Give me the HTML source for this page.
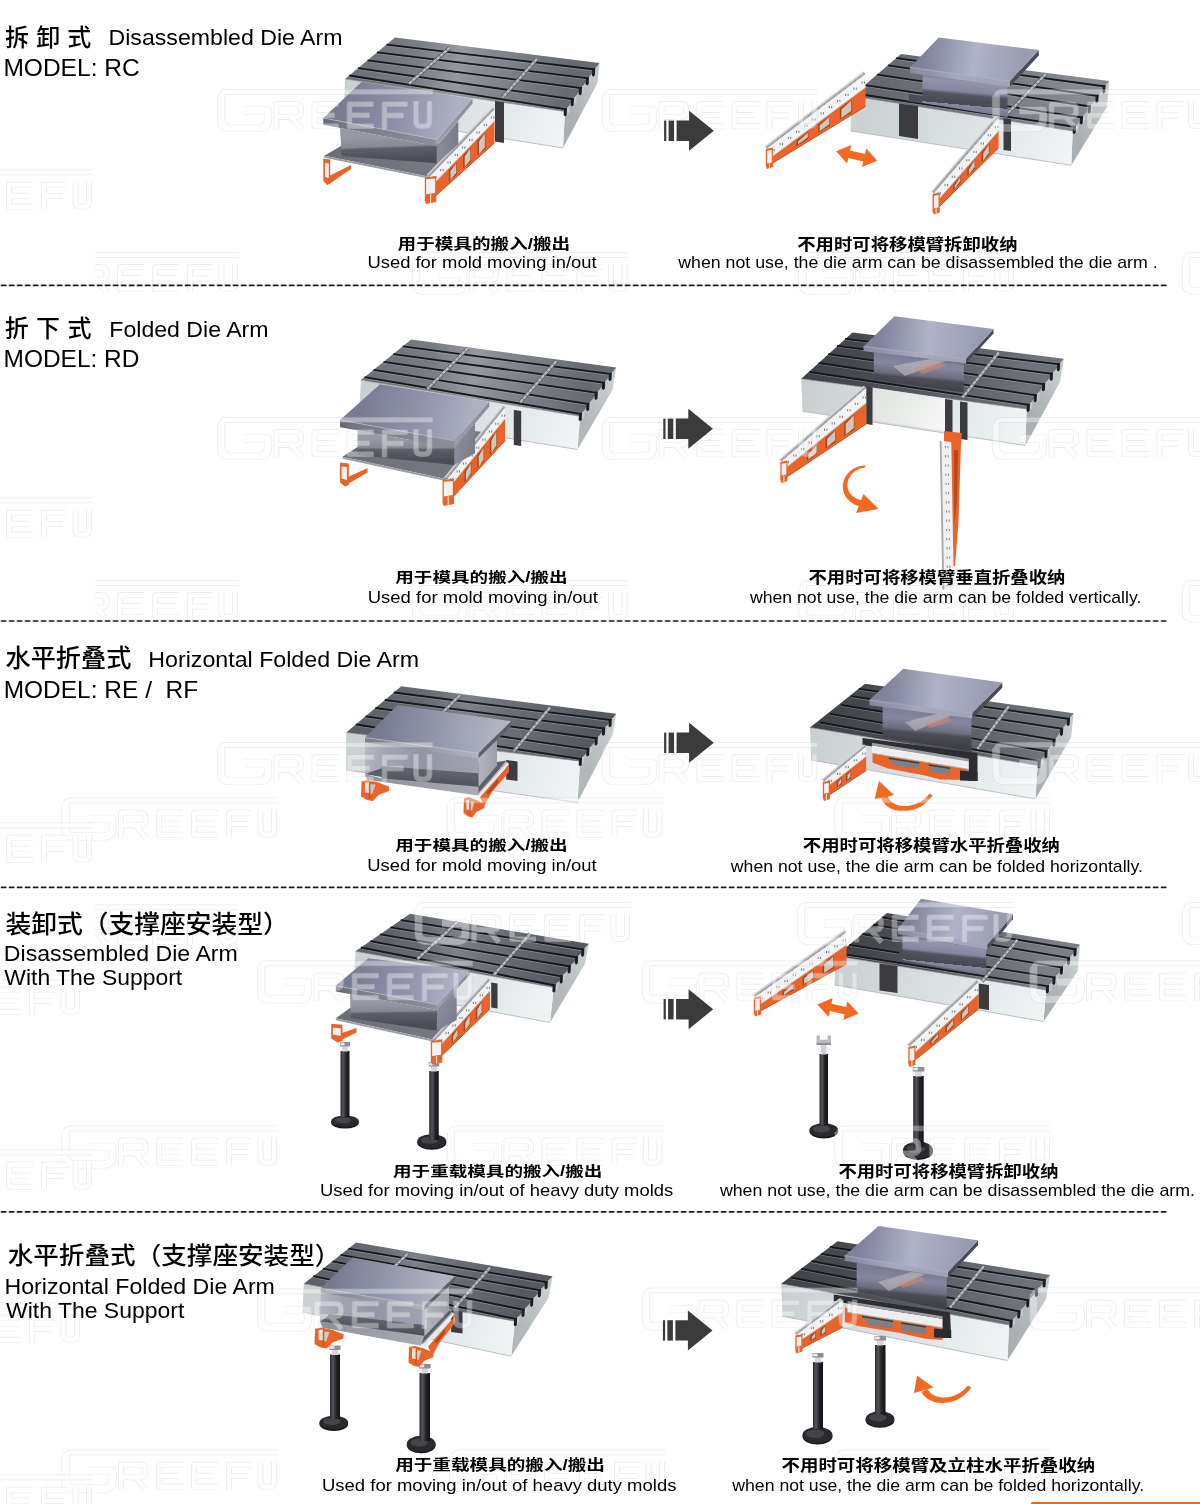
<!DOCTYPE html>
<html><head><meta charset="utf-8"><title>Die Arm</title>
<style>
html,body{margin:0;padding:0;background:#fff;}
body{width:1200px;height:1504px;overflow:hidden;font-family:"Liberation Sans",sans-serif;}
svg{display:block;position:absolute;left:0;top:0;}
text{font-family:"Liberation Sans",sans-serif;}
text.cjk{font-family:"Liberation Sans","Noto Sans CJK SC",sans-serif;}
</style></head><body>
<svg width="1200" height="1504" viewBox="0 0 1200 1504">
<defs><filter id="soft" x="0" y="0" width="1200" height="1504" filterUnits="userSpaceOnUse"><feGaussianBlur stdDeviation="0.5"/></filter><linearGradient id="lg1" gradientUnits="userSpaceOnUse" x1="324.2" y1="155.8" x2="468" y2="137"><stop offset="0" stop-color="#6b6d76"/><stop offset="1" stop-color="#7b7d86"/></linearGradient><linearGradient id="lg2" gradientUnits="userSpaceOnUse" x1="436.7" y1="146.3" x2="458.3" y2="144.2"><stop offset="0" stop-color="#8b8d9c"/><stop offset="1" stop-color="#7a7c8a"/></linearGradient><linearGradient id="lg3" gradientUnits="userSpaceOnUse" x1="388.4" y1="137.1" x2="389.2" y2="159.7"><stop offset="0" stop-color="#9698a3"/><stop offset="0.4" stop-color="#878994"/><stop offset="0.5" stop-color="#5d5f67"/><stop offset="1" stop-color="#4c4e56"/></linearGradient><linearGradient id="lg4" gradientUnits="userSpaceOnUse" x1="436.7" y1="139.5" x2="472.5" y2="98.7"><stop offset="0" stop-color="#9b9da8"/><stop offset="1" stop-color="#8a8c98"/></linearGradient><linearGradient id="lg5" gradientUnits="userSpaceOnUse" x1="323.3" y1="118" x2="436.7" y2="139.5"><stop offset="0" stop-color="#666873"/><stop offset="0.2" stop-color="#787a86"/><stop offset="1" stop-color="#8d8f9b"/></linearGradient><linearGradient id="lg6" gradientUnits="userSpaceOnUse" x1="342.5" y1="99.8" x2="454.6" y2="119.1"><stop offset="0" stop-color="#787b92"/><stop offset="0.6" stop-color="#9396ad"/><stop offset="1" stop-color="#aeb1c2"/></linearGradient><linearGradient id="lg7" gradientUnits="userSpaceOnUse" x1="565" y1="111.5" x2="597.5" y2="83"><stop offset="0" stop-color="#a9afb2"/><stop offset="1" stop-color="#c2c7c7"/></linearGradient><linearGradient id="lg8" gradientUnits="userSpaceOnUse" x1="345" y1="79" x2="563" y2="148"><stop offset="0" stop-color="#c9cfd0"/><stop offset="0.5" stop-color="#dbe1e3"/><stop offset="1" stop-color="#f0f4f5"/></linearGradient><linearGradient id="lg9" gradientUnits="userSpaceOnUse" x1="345" y1="79" x2="565" y2="111.5"><stop offset="0" stop-color="#6b6f76"/><stop offset="0.3" stop-color="#787c83"/><stop offset="0.5" stop-color="#969aa0"/><stop offset="0.6" stop-color="#878b92"/><stop offset="1" stop-color="#666a71"/></linearGradient><linearGradient id="lg10" gradientUnits="userSpaceOnUse" x1="1072.7" y1="131" x2="1107" y2="107"><stop offset="0" stop-color="#a9afb2"/><stop offset="0.5" stop-color="#b4babc"/><stop offset="1" stop-color="#c6cbcc"/></linearGradient><linearGradient id="lg11" gradientUnits="userSpaceOnUse" x1="852" y1="96" x2="1071.3" y2="165.3"><stop offset="0" stop-color="#c9cfd0"/><stop offset="0.5" stop-color="#dbe1e3"/><stop offset="1" stop-color="#f0f4f5"/></linearGradient><linearGradient id="lg12" gradientUnits="userSpaceOnUse" x1="852" y1="96" x2="1072.7" y2="131"><stop offset="0" stop-color="#62656c"/><stop offset="0.4" stop-color="#6e7178"/><stop offset="1" stop-color="#868a91"/></linearGradient><linearGradient id="lg13" gradientUnits="userSpaceOnUse" x1="960" y1="78" x2="957" y2="111"><stop offset="0" stop-color="#7d7f94"/><stop offset="0.1" stop-color="#9395aa"/><stop offset="0.4" stop-color="#8486a0"/><stop offset="0.5" stop-color="#53545e"/><stop offset="0.8" stop-color="#484952"/><stop offset="0.8" stop-color="#8688a0"/><stop offset="1" stop-color="#76788c"/></linearGradient><linearGradient id="lg14" gradientUnits="userSpaceOnUse" x1="910" y1="67.5" x2="1010" y2="81.2"><stop offset="0" stop-color="#8587a0"/><stop offset="0.5" stop-color="#a6a8bc"/><stop offset="1" stop-color="#a0a2b6"/></linearGradient><linearGradient id="lg15" gradientUnits="userSpaceOnUse" x1="924.4" y1="52.5" x2="1024.4" y2="65.6"><stop offset="0" stop-color="#80829c"/><stop offset="0.5" stop-color="#b0b2c8"/><stop offset="1" stop-color="#999bb1"/></linearGradient><linearGradient id="lg16" gradientUnits="userSpaceOnUse" x1="342.5" y1="456.7" x2="491" y2="432.5"><stop offset="0" stop-color="#6b6d76"/><stop offset="1" stop-color="#7b7d86"/></linearGradient><linearGradient id="lg17" gradientUnits="userSpaceOnUse" x1="454.2" y1="448" x2="475" y2="453.3"><stop offset="0" stop-color="#8b8d9c"/><stop offset="1" stop-color="#7a7c8a"/></linearGradient><linearGradient id="lg18" gradientUnits="userSpaceOnUse" x1="405.9" y1="439.2" x2="405.9" y2="460"><stop offset="0" stop-color="#9698a3"/><stop offset="0.4" stop-color="#878994"/><stop offset="0.5" stop-color="#5d5f67"/><stop offset="1" stop-color="#4c4e56"/></linearGradient><linearGradient id="lg19" gradientUnits="userSpaceOnUse" x1="454.2" y1="440.8" x2="489.2" y2="401.7"><stop offset="0" stop-color="#9b9da8"/><stop offset="1" stop-color="#8a8c98"/></linearGradient><linearGradient id="lg20" gradientUnits="userSpaceOnUse" x1="340" y1="420" x2="454.2" y2="440.8"><stop offset="0" stop-color="#666873"/><stop offset="0.2" stop-color="#787a86"/><stop offset="1" stop-color="#8d8f9b"/></linearGradient><linearGradient id="lg21" gradientUnits="userSpaceOnUse" x1="360" y1="402.1" x2="471.7" y2="421.2"><stop offset="0" stop-color="#787b92"/><stop offset="0.6" stop-color="#9396ad"/><stop offset="1" stop-color="#aeb1c2"/></linearGradient><linearGradient id="lg22" gradientUnits="userSpaceOnUse" x1="580" y1="416.2" x2="612.5" y2="390"><stop offset="0" stop-color="#b2b8ba"/><stop offset="0.5" stop-color="#bbc0c2"/><stop offset="1" stop-color="#c8cdce"/></linearGradient><linearGradient id="lg23" gradientUnits="userSpaceOnUse" x1="361" y1="380" x2="577.5" y2="449.5"><stop offset="0" stop-color="#c9cfd0"/><stop offset="0.5" stop-color="#dbe1e3"/><stop offset="1" stop-color="#f0f4f5"/></linearGradient><linearGradient id="lg24" gradientUnits="userSpaceOnUse" x1="361" y1="380" x2="580" y2="416.2"><stop offset="0" stop-color="#6b6f76"/><stop offset="0.3" stop-color="#787c83"/><stop offset="0.5" stop-color="#969aa0"/><stop offset="0.6" stop-color="#878b92"/><stop offset="1" stop-color="#666a71"/></linearGradient><linearGradient id="lg25" gradientUnits="userSpaceOnUse" x1="1026.5" y1="409" x2="1060" y2="382"><stop offset="0" stop-color="#a9afb2"/><stop offset="0.5" stop-color="#b4babc"/><stop offset="1" stop-color="#c6cbcc"/></linearGradient><linearGradient id="lg26" gradientUnits="userSpaceOnUse" x1="801.2" y1="378.8" x2="1025.5" y2="445.5"><stop offset="0" stop-color="#c9cfd0"/><stop offset="0.5" stop-color="#dbe1e3"/><stop offset="1" stop-color="#f0f4f5"/></linearGradient><linearGradient id="lg27" gradientUnits="userSpaceOnUse" x1="801.2" y1="378.8" x2="1026.5" y2="409"><stop offset="0" stop-color="#3f4248"/><stop offset="0.3" stop-color="#494c52"/><stop offset="0.6" stop-color="#595c62"/><stop offset="1" stop-color="#6e7279"/></linearGradient><linearGradient id="lg28" gradientUnits="userSpaceOnUse" x1="872" y1="390" x2="945" y2="430"><stop offset="0" stop-color="#dfe2df"/><stop offset="1" stop-color="#f6f7f6"/></linearGradient><linearGradient id="lg29" gradientUnits="userSpaceOnUse" x1="918" y1="356" x2="915" y2="388"><stop offset="0" stop-color="#7a7c90"/><stop offset="0.3" stop-color="#8587a0"/><stop offset="0.6" stop-color="#6c6e7e"/><stop offset="0.7" stop-color="#4c4d57"/><stop offset="1" stop-color="#3e3f47"/></linearGradient><linearGradient id="lg30" gradientUnits="userSpaceOnUse" x1="863.5" y1="346.5" x2="966" y2="359"><stop offset="0" stop-color="#8587a0"/><stop offset="0.5" stop-color="#a6a8bc"/><stop offset="1" stop-color="#a0a2b6"/></linearGradient><linearGradient id="lg31" gradientUnits="userSpaceOnUse" x1="879" y1="331.4" x2="979.8" y2="344"><stop offset="0" stop-color="#80829c"/><stop offset="0.5" stop-color="#b0b2c8"/><stop offset="1" stop-color="#999bb1"/></linearGradient><linearGradient id="lg32" gradientUnits="userSpaceOnUse" x1="478" y1="760" x2="497" y2="760"><stop offset="0" stop-color="#b4b6be"/><stop offset="1" stop-color="#9d9fa8"/></linearGradient><linearGradient id="lg33" gradientUnits="userSpaceOnUse" x1="365" y1="750" x2="478" y2="765"><stop offset="0" stop-color="#b3b6bf"/><stop offset="0.2" stop-color="#a2a5b1"/><stop offset="0.5" stop-color="#9295a4"/><stop offset="1" stop-color="#a1a4b0"/></linearGradient><linearGradient id="lg34" gradientUnits="userSpaceOnUse" x1="430" y1="769" x2="429" y2="785"><stop offset="0" stop-color="#64666f"/><stop offset="1" stop-color="#4f5159"/></linearGradient><linearGradient id="lg35" gradientUnits="userSpaceOnUse" x1="366" y1="777" x2="478" y2="791"><stop offset="0" stop-color="#8e9199"/><stop offset="1" stop-color="#aaacb4"/></linearGradient><linearGradient id="lg36" gradientUnits="userSpaceOnUse" x1="365" y1="740" x2="478" y2="756"><stop offset="0" stop-color="#7d808c"/><stop offset="1" stop-color="#b0b3be"/></linearGradient><linearGradient id="lg37" gradientUnits="userSpaceOnUse" x1="378" y1="722" x2="497" y2="738"><stop offset="0" stop-color="#767a8e"/><stop offset="0.5" stop-color="#9397aa"/><stop offset="1" stop-color="#b1b5c2"/></linearGradient><linearGradient id="lg38" gradientUnits="userSpaceOnUse" x1="580" y1="761.2" x2="612.5" y2="735"><stop offset="0" stop-color="#b2b8ba"/><stop offset="0.5" stop-color="#bbc0c2"/><stop offset="1" stop-color="#c8cdce"/></linearGradient><linearGradient id="lg39" gradientUnits="userSpaceOnUse" x1="346.2" y1="732.5" x2="577.5" y2="802.5"><stop offset="0" stop-color="#c9cfd0"/><stop offset="0.5" stop-color="#dbe1e3"/><stop offset="1" stop-color="#f0f4f5"/></linearGradient><linearGradient id="lg40" gradientUnits="userSpaceOnUse" x1="346.2" y1="732.5" x2="580" y2="761.2"><stop offset="0" stop-color="#5a5e65"/><stop offset="0.3" stop-color="#666a71"/><stop offset="0.5" stop-color="#7d8188"/><stop offset="0.6" stop-color="#70747b"/><stop offset="1" stop-color="#565a61"/></linearGradient><linearGradient id="lg41" gradientUnits="userSpaceOnUse" x1="1037.5" y1="765.5" x2="1071.2" y2="737"><stop offset="0" stop-color="#a9afb2"/><stop offset="0.5" stop-color="#b4babc"/><stop offset="1" stop-color="#c6cbcc"/></linearGradient><linearGradient id="lg42" gradientUnits="userSpaceOnUse" x1="810" y1="727.5" x2="1035.5" y2="799"><stop offset="0" stop-color="#c9cfd0"/><stop offset="0.5" stop-color="#dbe1e3"/><stop offset="1" stop-color="#f0f4f5"/></linearGradient><linearGradient id="lg43" gradientUnits="userSpaceOnUse" x1="810" y1="727.5" x2="1037.5" y2="765.5"><stop offset="0" stop-color="#3f4248"/><stop offset="0.3" stop-color="#494c52"/><stop offset="0.6" stop-color="#595c62"/><stop offset="1" stop-color="#6e7279"/></linearGradient><linearGradient id="lg44" gradientUnits="userSpaceOnUse" x1="928" y1="710" x2="925" y2="744"><stop offset="0" stop-color="#7a7c90"/><stop offset="0.3" stop-color="#8587a0"/><stop offset="0.6" stop-color="#6c6e7e"/><stop offset="0.7" stop-color="#4c4d57"/><stop offset="1" stop-color="#3e3f47"/></linearGradient><linearGradient id="lg45" gradientUnits="userSpaceOnUse" x1="869.5" y1="700" x2="972.3" y2="713.3"><stop offset="0" stop-color="#8587a0"/><stop offset="0.5" stop-color="#a6a8bc"/><stop offset="1" stop-color="#a0a2b6"/></linearGradient><linearGradient id="lg46" gradientUnits="userSpaceOnUse" x1="886.4" y1="684.4" x2="987.3" y2="697.9"><stop offset="0" stop-color="#80829c"/><stop offset="0.5" stop-color="#b0b2c8"/><stop offset="1" stop-color="#999bb1"/></linearGradient><linearGradient id="lg47" gradientUnits="userSpaceOnUse" x1="335.8" y1="1018.3" x2="470" y2="1004"><stop offset="0" stop-color="#6b6d76"/><stop offset="1" stop-color="#7b7d86"/></linearGradient><linearGradient id="lg48" gradientUnits="userSpaceOnUse" x1="437" y1="1010.1" x2="456.7" y2="1020"><stop offset="0" stop-color="#8b8d9c"/><stop offset="1" stop-color="#7a7c8a"/></linearGradient><linearGradient id="lg49" gradientUnits="userSpaceOnUse" x1="393.5" y1="1002.1" x2="393.8" y2="1024.5"><stop offset="0" stop-color="#9698a3"/><stop offset="0.4" stop-color="#878994"/><stop offset="0.5" stop-color="#5d5f67"/><stop offset="1" stop-color="#4c4e56"/></linearGradient><linearGradient id="lg50" gradientUnits="userSpaceOnUse" x1="437" y1="1004.5" x2="470" y2="970.8"><stop offset="0" stop-color="#9b9da8"/><stop offset="1" stop-color="#8a8c98"/></linearGradient><linearGradient id="lg51" gradientUnits="userSpaceOnUse" x1="335.8" y1="985.8" x2="437" y2="1004.5"><stop offset="0" stop-color="#666873"/><stop offset="0.2" stop-color="#787a86"/><stop offset="1" stop-color="#8d8f9b"/></linearGradient><linearGradient id="lg52" gradientUnits="userSpaceOnUse" x1="352.1" y1="972" x2="453.5" y2="987.6"><stop offset="0" stop-color="#787b92"/><stop offset="0.6" stop-color="#9396ad"/><stop offset="1" stop-color="#aeb1c2"/></linearGradient><linearGradient id="lg53" gradientUnits="userSpaceOnUse" x1="553.8" y1="987.5" x2="585" y2="963.8"><stop offset="0" stop-color="#b2b8ba"/><stop offset="0.5" stop-color="#bbc0c2"/><stop offset="1" stop-color="#c8cdce"/></linearGradient><linearGradient id="lg54" gradientUnits="userSpaceOnUse" x1="355.5" y1="951.3" x2="550" y2="1022.5"><stop offset="0" stop-color="#c9cfd0"/><stop offset="0.5" stop-color="#dbe1e3"/><stop offset="1" stop-color="#f0f4f5"/></linearGradient><linearGradient id="lg55" gradientUnits="userSpaceOnUse" x1="355.5" y1="951.3" x2="553.8" y2="987.5"><stop offset="0" stop-color="#5a5e65"/><stop offset="0.3" stop-color="#666a71"/><stop offset="0.5" stop-color="#7d8188"/><stop offset="0.6" stop-color="#70747b"/><stop offset="1" stop-color="#565a61"/></linearGradient><linearGradient id="lg56" gradientUnits="userSpaceOnUse" x1="340.5" y1="0" x2="349.5" y2="0"><stop offset="0" stop-color="#2a2a2e"/><stop offset="0.3" stop-color="#55555b"/><stop offset="0.6" stop-color="#26262a"/><stop offset="1" stop-color="#121214"/></linearGradient><linearGradient id="lg57" gradientUnits="userSpaceOnUse" x1="429.2" y1="0" x2="438.8" y2="0"><stop offset="0" stop-color="#2a2a2e"/><stop offset="0.3" stop-color="#55555b"/><stop offset="0.6" stop-color="#26262a"/><stop offset="1" stop-color="#121214"/></linearGradient><linearGradient id="lg58" gradientUnits="userSpaceOnUse" x1="1046" y1="990" x2="1077.5" y2="971.5"><stop offset="0" stop-color="#a9afb2"/><stop offset="0.5" stop-color="#b4babc"/><stop offset="1" stop-color="#c6cbcc"/></linearGradient><linearGradient id="lg59" gradientUnits="userSpaceOnUse" x1="836" y1="956" x2="1043.5" y2="1021.5"><stop offset="0" stop-color="#c9cfd0"/><stop offset="0.5" stop-color="#dbe1e3"/><stop offset="1" stop-color="#f0f4f5"/></linearGradient><linearGradient id="lg60" gradientUnits="userSpaceOnUse" x1="836" y1="956" x2="1046" y2="990"><stop offset="0" stop-color="#3f4248"/><stop offset="0.3" stop-color="#4a4d53"/><stop offset="0.6" stop-color="#64686e"/><stop offset="1" stop-color="#7a7e85"/></linearGradient><linearGradient id="lg61" gradientUnits="userSpaceOnUse" x1="945" y1="941" x2="942" y2="969"><stop offset="0" stop-color="#7d7f94"/><stop offset="0.1" stop-color="#9395aa"/><stop offset="0.4" stop-color="#8486a0"/><stop offset="0.5" stop-color="#53545e"/><stop offset="0.8" stop-color="#484952"/><stop offset="0.8" stop-color="#8688a0"/><stop offset="1" stop-color="#76788c"/></linearGradient><linearGradient id="lg62" gradientUnits="userSpaceOnUse" x1="898" y1="929" x2="987.4" y2="944.8"><stop offset="0" stop-color="#8587a0"/><stop offset="0.5" stop-color="#a6a8bc"/><stop offset="1" stop-color="#a0a2b6"/></linearGradient><linearGradient id="lg63" gradientUnits="userSpaceOnUse" x1="909.5" y1="913.9" x2="1000.2" y2="929.5"><stop offset="0" stop-color="#80829c"/><stop offset="0.5" stop-color="#b0b2c8"/><stop offset="1" stop-color="#999bb1"/></linearGradient><linearGradient id="lg64" gradientUnits="userSpaceOnUse" x1="819.5" y1="0" x2="828" y2="0"><stop offset="0" stop-color="#2a2a2e"/><stop offset="0.3" stop-color="#55555b"/><stop offset="0.6" stop-color="#26262a"/><stop offset="1" stop-color="#121214"/></linearGradient><linearGradient id="lg65" gradientUnits="userSpaceOnUse" x1="913.2" y1="0" x2="923.8" y2="0"><stop offset="0" stop-color="#2a2a2e"/><stop offset="0.3" stop-color="#55555b"/><stop offset="0.6" stop-color="#26262a"/><stop offset="1" stop-color="#121214"/></linearGradient><linearGradient id="lg66" gradientUnits="userSpaceOnUse" x1="424" y1="1310" x2="449" y2="1310"><stop offset="0" stop-color="#b4b6be"/><stop offset="1" stop-color="#9d9fa8"/></linearGradient><linearGradient id="lg67" gradientUnits="userSpaceOnUse" x1="320" y1="1300" x2="424" y2="1316"><stop offset="0" stop-color="#b3b6bf"/><stop offset="0.2" stop-color="#a2a5b1"/><stop offset="0.5" stop-color="#9295a4"/><stop offset="1" stop-color="#a1a4b0"/></linearGradient><linearGradient id="lg68" gradientUnits="userSpaceOnUse" x1="376" y1="1318" x2="375" y2="1331"><stop offset="0" stop-color="#64666f"/><stop offset="1" stop-color="#4f5159"/></linearGradient><linearGradient id="lg69" gradientUnits="userSpaceOnUse" x1="321" y1="1324" x2="424" y2="1340"><stop offset="0" stop-color="#8e9199"/><stop offset="1" stop-color="#aaacb4"/></linearGradient><linearGradient id="lg70" gradientUnits="userSpaceOnUse" x1="320" y1="1290" x2="424" y2="1308"><stop offset="0" stop-color="#7d808c"/><stop offset="1" stop-color="#b0b3be"/></linearGradient><linearGradient id="lg71" gradientUnits="userSpaceOnUse" x1="333" y1="1273" x2="442" y2="1290"><stop offset="0" stop-color="#767a8e"/><stop offset="0.5" stop-color="#9397aa"/><stop offset="1" stop-color="#b1b5c2"/></linearGradient><linearGradient id="lg72" gradientUnits="userSpaceOnUse" x1="515" y1="1321.2" x2="548.8" y2="1297.5"><stop offset="0" stop-color="#b2b8ba"/><stop offset="0.5" stop-color="#bbc0c2"/><stop offset="1" stop-color="#c8cdce"/></linearGradient><linearGradient id="lg73" gradientUnits="userSpaceOnUse" x1="303.8" y1="1283.8" x2="511.2" y2="1356.2"><stop offset="0" stop-color="#c9cfd0"/><stop offset="0.5" stop-color="#dbe1e3"/><stop offset="1" stop-color="#f0f4f5"/></linearGradient><linearGradient id="lg74" gradientUnits="userSpaceOnUse" x1="303.8" y1="1283.8" x2="515" y2="1321.2"><stop offset="0" stop-color="#5a5e65"/><stop offset="0.3" stop-color="#666a71"/><stop offset="0.5" stop-color="#7d8188"/><stop offset="0.6" stop-color="#70747b"/><stop offset="1" stop-color="#565a61"/></linearGradient><linearGradient id="lg75" gradientUnits="userSpaceOnUse" x1="330" y1="0" x2="340" y2="0"><stop offset="0" stop-color="#2a2a2e"/><stop offset="0.3" stop-color="#55555b"/><stop offset="0.6" stop-color="#26262a"/><stop offset="1" stop-color="#121214"/></linearGradient><linearGradient id="lg76" gradientUnits="userSpaceOnUse" x1="419.5" y1="0" x2="430" y2="0"><stop offset="0" stop-color="#2a2a2e"/><stop offset="0.3" stop-color="#55555b"/><stop offset="0.6" stop-color="#26262a"/><stop offset="1" stop-color="#121214"/></linearGradient><linearGradient id="lg77" gradientUnits="userSpaceOnUse" x1="1009" y1="1325" x2="1046.2" y2="1299"><stop offset="0" stop-color="#a9afb2"/><stop offset="0.5" stop-color="#b4babc"/><stop offset="1" stop-color="#c6cbcc"/></linearGradient><linearGradient id="lg78" gradientUnits="userSpaceOnUse" x1="781.2" y1="1283.8" x2="1007.5" y2="1360.5"><stop offset="0" stop-color="#c9cfd0"/><stop offset="0.5" stop-color="#dbe1e3"/><stop offset="1" stop-color="#f0f4f5"/></linearGradient><linearGradient id="lg79" gradientUnits="userSpaceOnUse" x1="781.2" y1="1283.8" x2="1009" y2="1325"><stop offset="0" stop-color="#3f4248"/><stop offset="0.3" stop-color="#494c52"/><stop offset="0.6" stop-color="#595c62"/><stop offset="1" stop-color="#6e7279"/></linearGradient><linearGradient id="lg80" gradientUnits="userSpaceOnUse" x1="875" y1="0" x2="885.5" y2="0"><stop offset="0" stop-color="#2a2a2e"/><stop offset="0.3" stop-color="#55555b"/><stop offset="0.6" stop-color="#26262a"/><stop offset="1" stop-color="#121214"/></linearGradient><linearGradient id="lg81" gradientUnits="userSpaceOnUse" x1="900" y1="1270" x2="897" y2="1303"><stop offset="0" stop-color="#7a7c90"/><stop offset="0.3" stop-color="#8587a0"/><stop offset="0.6" stop-color="#6c6e7e"/><stop offset="0.7" stop-color="#4c4d57"/><stop offset="1" stop-color="#3e3f47"/></linearGradient><linearGradient id="lg82" gradientUnits="userSpaceOnUse" x1="844.7" y1="1255.7" x2="948" y2="1272.3"><stop offset="0" stop-color="#8587a0"/><stop offset="0.5" stop-color="#a6a8bc"/><stop offset="1" stop-color="#a0a2b6"/></linearGradient><linearGradient id="lg83" gradientUnits="userSpaceOnUse" x1="861.6" y1="1240.8" x2="963" y2="1256.3"><stop offset="0" stop-color="#80829c"/><stop offset="0.5" stop-color="#b0b2c8"/><stop offset="1" stop-color="#999bb1"/></linearGradient><linearGradient id="lg84" gradientUnits="userSpaceOnUse" x1="813" y1="0" x2="823" y2="0"><stop offset="0" stop-color="#2a2a2e"/><stop offset="0.3" stop-color="#55555b"/><stop offset="0.6" stop-color="#26262a"/><stop offset="1" stop-color="#121214"/></linearGradient><g id="wmlogo" fill="none" stroke-linejoin="round"><path d="M3.5,6 V30 Q3.5,38.5 12,38.5 H42 Q50.5,38.5 50.5,30 V21 H27" stroke="#c4c4c4" stroke-width="8.2"/><path d="M9,2.4 H215 M9,2.4 Q3.5,2.4 3.5,8" stroke="#c4c4c4" stroke-width="5.6"/><path d="M59,39.7 V14.7 H78 Q83.5,14.7 83.5,19.5 V22.5 Q83.5,27.3 78,27.3 H59 M73,27.3 L84,39.7 M121,14.7 H97 V36.7 H121 M97,25.7 H117 M156,14.7 H132 V36.7 H156 M132,25.7 H152 M190,14.7 H167 V39.7 M167,26 H186 M198.5,11.7 V31.5 Q198.5,36.7 203.5,36.7 H207 Q212,36.7 212,31.5 V11.7" stroke="#c4c4c4" stroke-width="5.8"/><path d="M3.5,6 V30 Q3.5,38.5 12,38.5 H42 Q50.5,38.5 50.5,30 V21 H27" stroke="#fff" stroke-width="6.8"/><path d="M9,2.4 H215 M9,2.4 Q3.5,2.4 3.5,8" stroke="#fff" stroke-width="4.2"/><path d="M59,39.7 V14.7 H78 Q83.5,14.7 83.5,19.5 V22.5 Q83.5,27.3 78,27.3 H59 M73,27.3 L84,39.7 M121,14.7 H97 V36.7 H121 M97,25.7 H117 M156,14.7 H132 V36.7 H156 M132,25.7 H152 M190,14.7 H167 V39.7 M167,26 H186 M198.5,11.7 V31.5 Q198.5,36.7 203.5,36.7 H207 Q212,36.7 212,31.5 V11.7" stroke="#fff" stroke-width="4.4"/></g><clipPath id="wc1"><rect x="0" y="0" width="92" height="1504"/></clipPath><clipPath id="wc2"><rect x="95" y="0" width="1105" height="1504"/></clipPath><clipPath id="wc3"><rect x="0" y="0" width="92" height="1504"/></clipPath><clipPath id="wc4"><rect x="95" y="0" width="1105" height="1504"/></clipPath><clipPath id="wc5"><rect x="0" y="0" width="92" height="1504"/></clipPath><clipPath id="wc6"><rect x="95" y="0" width="1105" height="1504"/></clipPath><clipPath id="wc7"><rect x="0" y="0" width="80" height="1504"/></clipPath><clipPath id="wc8"><rect x="0" y="0" width="92" height="1504"/></clipPath><clipPath id="wc9"><rect x="0" y="0" width="80" height="1504"/></clipPath><clipPath id="wc10"><rect x="0" y="0" width="92" height="1504"/></clipPath></defs>
<rect width="1200" height="1504" fill="#fff"/>
<g id="illus" filter="url(#soft)"><polygon points="565,111.5 599.5,63 597.5,83 563,148" fill="url(#lg7)"/><polygon points="345,79 565,111.5 563,148 344,113" fill="url(#lg8)"/><line x1="344" y1="113" x2="563" y2="148" stroke="#aeb2b0" stroke-width="0.8"/><polygon points="395,37.5 599.5,63 565,111.5 345,79" fill="url(#lg9)"/><line x1="386.5" y1="45.8" x2="594.8" y2="70.9" stroke="#a5a9b0" stroke-width="0.9" opacity="0.55"/><line x1="386.5" y1="44.6" x2="594.8" y2="69.5" stroke="#17191c" stroke-width="1.8"/><line x1="377" y1="53.6" x2="588.6" y2="79.7" stroke="#a5a9b0" stroke-width="0.9" opacity="0.55"/><line x1="377" y1="52.4" x2="588.6" y2="78.3" stroke="#17191c" stroke-width="1.8"/><line x1="367.5" y1="61.5" x2="581.6" y2="89.6" stroke="#a5a9b0" stroke-width="0.9" opacity="0.55"/><line x1="367.5" y1="60.3" x2="581.6" y2="88.2" stroke="#17191c" stroke-width="1.8"/><line x1="358" y1="69.4" x2="573.6" y2="100.8" stroke="#a5a9b0" stroke-width="0.9" opacity="0.55"/><line x1="358" y1="68.2" x2="573.6" y2="99.4" stroke="#17191c" stroke-width="1.8"/><line x1="349.2" y1="76.7" x2="566.6" y2="110.7" stroke="#a5a9b0" stroke-width="0.9" opacity="0.55"/><line x1="349.2" y1="75.5" x2="566.6" y2="109.3" stroke="#17191c" stroke-width="1.8"/><line x1="345" y1="79" x2="565" y2="111.5" stroke="#8a8e96" stroke-width="0.8" opacity="0.8"/><polygon points="595.1,67.9 598,65.7 597.4,73.1 594.8,75.3" fill="#c3c8ca"/><polygon points="592.2,68.6 595.2,68 594.9,75.1 593.4,76.7 591.9,75.5" fill="#1d1f22"/><polygon points="588.9,76.7 591.8,74.5 591.2,81.9 588.6,84.1" fill="#c3c8ca"/><polygon points="586,77.4 589,76.8 588.7,83.9 587.2,85.5 585.7,84.3" fill="#1d1f22"/><polygon points="581.9,86.6 584.8,84.4 584.2,91.8 581.6,94" fill="#c3c8ca"/><polygon points="579,87.3 582,86.7 581.7,93.8 580.2,95.4 578.7,94.2" fill="#1d1f22"/><polygon points="573.9,97.8 576.8,95.6 576.2,103 573.6,105.2" fill="#c3c8ca"/><polygon points="571,98.5 574,97.9 573.7,105 572.2,106.6 570.7,105.4" fill="#1d1f22"/><polygon points="566.9,107.7 569.8,105.5 569.2,112.9 566.6,115.1" fill="#c3c8ca"/><polygon points="564,108.4 567,107.8 566.7,114.9 565.2,116.5 563.7,115.3" fill="#1d1f22"/><line x1="450" y1="47.5" x2="408.8" y2="83.8" stroke="#5a5e66" stroke-width="3.8"/><line x1="450" y1="47.5" x2="408.8" y2="83.8" stroke="#b9bdc2" stroke-width="2.3" stroke-dasharray="4 0.6"/><line x1="537" y1="58.8" x2="502.5" y2="97.5" stroke="#5a5e66" stroke-width="3.8"/><line x1="537" y1="58.8" x2="502.5" y2="97.5" stroke="#b9bdc2" stroke-width="2.3" stroke-dasharray="4 0.6"/><polygon points="495,101 504,102.2 504,143 495,141.5" fill="#3a3b3f"/><polygon points="329,176 351,165 351,169 330,183.5" fill="#e9642c"/><polygon points="323.3,158.5 330.3,159.5 330.3,183.5 327.3,185 323.3,181" fill="#e9642c"/><polygon points="325,163 328.8,163.5 328.8,178 325,177" fill="#f1f1f1"/><polygon points="324.2,155.8 341,146 459,143 468,137 429.6,176.7" fill="url(#lg1)"/><polygon points="324.2,155.8 429.6,176.7 429.6,178.7 324.2,157.8" fill="#9c9ea6"/><polygon points="429.3,187.5 494.5,120 494.5,143 429.3,201.5" fill="#e9642c"/><polygon points="448.9,170.2 456.7,162.2 456.7,174.4 448.9,181.4" fill="#a3461b"/><polygon points="450.4,171.2 456.1,163.2 456.1,172.9 450.4,179.9" fill="#cfc6bf"/><polygon points="463.2,155.4 471,147.3 471,161.6 463.2,168.6" fill="#a3461b"/><polygon points="464.7,156.4 470.4,148.3 470.4,160.1 464.7,167.1" fill="#cfc6bf"/><polygon points="477.5,140.6 485.4,132.4 485.4,148.7 477.5,155.7" fill="#a3461b"/><polygon points="479,141.6 484.8,133.4 484.8,147.2 479,154.2" fill="#cfc6bf"/><line x1="429.3" y1="201.5" x2="494.5" y2="143" stroke="#c9521f" stroke-width="1"/><polygon points="429.3,177 494.5,109.5 494.5,121 429.3,188.5" fill="#f3f3f3"/><line x1="429.3" y1="188.5" x2="494.5" y2="121" stroke="#b9bbbd" stroke-width="0.7"/><line x1="428.3" y1="175.8" x2="493.5" y2="108.3" stroke="#a4a7ad" stroke-width="3"/><line x1="426.9" y1="175.4" x2="492.1" y2="107.9" stroke="#d9dbde" stroke-width="1.3"/><line x1="429.1" y1="176.6" x2="494.3" y2="109.1" stroke="#7f8288" stroke-width="0.7" stroke-dasharray="1.5 5"/><rect x="433" y="176.4" width="1" height="2.2" fill="#7b7d80"/><rect x="435.4" y="176.4" width="1" height="2.2" fill="#7b7d80"/><rect x="440.2" y="168.9" width="1" height="2.2" fill="#7b7d80"/><rect x="442.6" y="168.9" width="1" height="2.2" fill="#7b7d80"/><rect x="447.5" y="161.4" width="1" height="2.2" fill="#7b7d80"/><rect x="449.9" y="161.4" width="1" height="2.2" fill="#7b7d80"/><rect x="454.7" y="153.9" width="1" height="2.2" fill="#7b7d80"/><rect x="457.1" y="153.9" width="1" height="2.2" fill="#7b7d80"/><rect x="461.9" y="146.4" width="1" height="2.2" fill="#7b7d80"/><rect x="464.3" y="146.4" width="1" height="2.2" fill="#7b7d80"/><rect x="469.2" y="138.9" width="1" height="2.2" fill="#7b7d80"/><rect x="471.6" y="138.9" width="1" height="2.2" fill="#7b7d80"/><rect x="476.4" y="131.4" width="1" height="2.2" fill="#7b7d80"/><rect x="478.8" y="131.4" width="1" height="2.2" fill="#7b7d80"/><rect x="483.7" y="123.9" width="1" height="2.2" fill="#7b7d80"/><rect x="486.1" y="123.9" width="1" height="2.2" fill="#7b7d80"/><rect x="490.9" y="116.4" width="1" height="2.2" fill="#7b7d80"/><rect x="493.3" y="116.4" width="1" height="2.2" fill="#7b7d80"/><polygon points="424.8,177.6 436.3,176.1 436.3,202.1 426,203.9 424.8,200.7" fill="#e9642c"/><polygon points="426.1,179.2 435.1,178.6 435.1,193.1 426.1,194.3" fill="#f1f1f1"/><line x1="430.6" y1="202.9" x2="430.6" y2="194.3" stroke="#fff" stroke-width="0.9"/><polygon points="436.7,146.3 458.3,121 458.3,144.2 436.7,163.3" fill="url(#lg2)"/><polygon points="340,128 436.7,146.3 436.7,163.3 341.7,156" fill="url(#lg3)"/><polygon points="436.7,139.5 472.5,98.7 472.5,103.5 436.7,146.3" fill="url(#lg4)"/><polygon points="323.3,118 436.7,139.5 436.7,146.3 323.3,124.8" fill="url(#lg5)"/><polygon points="323.3,118 361.7,81.7 472.5,98.7 436.7,139.5" fill="url(#lg6)"/><line x1="323.3" y1="118" x2="436.7" y2="139.5" stroke="#b7bac8" stroke-width="0.7"/><polygon points="1072.7,131 1109.2,81 1107,107 1071.3,165.3" fill="url(#lg10)"/><polygon points="852,96 1072.7,131 1071.3,165.3 850.5,131" fill="url(#lg11)"/><line x1="850.5" y1="131" x2="1071.3" y2="165.3" stroke="#aeb2b0" stroke-width="0.8"/><polygon points="901,54 1109.2,81 1072.7,131 852,96" fill="url(#lg12)"/><line x1="896.1" y1="59.4" x2="1105.2" y2="87.9" stroke="#a5a9b0" stroke-width="0.9" opacity="0.55"/><line x1="896.1" y1="58.2" x2="1105.2" y2="86.5" stroke="#17191c" stroke-width="1.8"/><line x1="887.8" y1="66.5" x2="1098.2" y2="97.4" stroke="#a5a9b0" stroke-width="0.9" opacity="0.55"/><line x1="887.8" y1="65.3" x2="1098.2" y2="96" stroke="#17191c" stroke-width="1.8"/><line x1="877" y1="75.8" x2="1090.6" y2="107.9" stroke="#a5a9b0" stroke-width="0.9" opacity="0.55"/><line x1="877" y1="74.6" x2="1090.6" y2="106.5" stroke="#17191c" stroke-width="1.8"/><line x1="864.7" y1="86.3" x2="1082.6" y2="118.9" stroke="#a5a9b0" stroke-width="0.9" opacity="0.55"/><line x1="864.7" y1="85.1" x2="1082.6" y2="117.5" stroke="#17191c" stroke-width="1.8"/><line x1="854.9" y1="94.7" x2="1075.6" y2="128.4" stroke="#a5a9b0" stroke-width="0.9" opacity="0.55"/><line x1="854.9" y1="93.5" x2="1075.6" y2="127" stroke="#17191c" stroke-width="1.8"/><line x1="852" y1="96" x2="1072.7" y2="131" stroke="#8a8e96" stroke-width="0.8" opacity="0.8"/><polygon points="1105.5,84.9 1108.4,82.7 1107.8,90.1 1105.2,92.3" fill="#c3c8ca"/><polygon points="1102.6,85.6 1105.6,85 1105.3,92.1 1103.8,93.7 1102.3,92.5" fill="#1d1f22"/><polygon points="1098.5,94.4 1101.5,92.2 1100.8,99.6 1098.2,101.8" fill="#c3c8ca"/><polygon points="1095.7,95.1 1098.7,94.5 1098.3,101.6 1096.8,103.2 1095.3,102" fill="#1d1f22"/><polygon points="1090.9,104.9 1093.8,102.7 1093.2,110.1 1090.6,112.3" fill="#c3c8ca"/><polygon points="1088,105.6 1091,105 1090.7,112.1 1089.2,113.7 1087.7,112.5" fill="#1d1f22"/><polygon points="1082.9,115.9 1085.8,113.7 1085.2,121.1 1082.6,123.3" fill="#c3c8ca"/><polygon points="1080,116.6 1083,116 1082.7,123.1 1081.2,124.7 1079.7,123.5" fill="#1d1f22"/><polygon points="1075.9,125.4 1078.8,123.2 1078.2,130.6 1075.6,132.8" fill="#c3c8ca"/><polygon points="1073,126.1 1076,125.5 1075.7,132.6 1074.2,134.2 1072.7,133" fill="#1d1f22"/><line x1="1046" y1="73.8" x2="1005" y2="116" stroke="#5a5e66" stroke-width="3.8"/><line x1="1046" y1="73.8" x2="1005" y2="116" stroke="#b9bdc2" stroke-width="2.3" stroke-dasharray="4 0.6"/><polygon points="908.8,94 922.5,96 922.5,103.5 908.8,101.5" fill="#4a4d55"/><polygon points="922.5,72 1007.5,86 1007.5,117 922.5,103" fill="url(#lg13)"/><polygon points="1010,81.2 1038.8,50 1038.8,55.6 1010,86.8" fill="#4b4d57"/><polygon points="910,67.5 1010,81.2 1010,86.8 910,73.1" fill="url(#lg14)"/><polygon points="938.8,37.5 1038.8,50 1010,81.2 910,67.5" fill="url(#lg15)"/><line x1="910" y1="67.5" x2="1010" y2="81.2" stroke="#b9bcc8" stroke-width="0.7"/><polygon points="899,103.5 918,106 918,139 899,136" fill="#3a3b3f"/><polygon points="1003.5,118 1011,119 1011,151 1003.5,150" fill="#3a3b3f"/><polygon points="767,159.5 865.5,86.5 865.5,106.5 767,166.5" fill="#e9642c"/><polygon points="796.5,140.6 808.4,131.8 808.4,138.8 796.5,146" fill="#a3461b"/><polygon points="798,141.6 807.8,132.8 807.8,137.3 798,144.5" fill="#cfc6bf"/><polygon points="818.2,124.5 830,115.8 830,125.6 818.2,132.8" fill="#a3461b"/><polygon points="819.7,125.5 829.4,116.8 829.4,124.1 819.7,131.3" fill="#cfc6bf"/><polygon points="839.9,108.5 851.7,99.7 851.7,112.4 839.9,119.6" fill="#a3461b"/><polygon points="841.4,109.5 851.1,100.7 851.1,110.9 841.4,118.1" fill="#cfc6bf"/><line x1="767" y1="166.5" x2="865.5" y2="106.5" stroke="#c9521f" stroke-width="1"/><polygon points="767,148.5 865.5,74 865.5,87.5 767,160.5" fill="#f3f3f3"/><line x1="767" y1="160.5" x2="865.5" y2="87.5" stroke="#b9bbbd" stroke-width="0.7"/><line x1="766" y1="147.3" x2="864.5" y2="72.8" stroke="#a4a7ad" stroke-width="3"/><line x1="764.6" y1="146.9" x2="863.1" y2="72.4" stroke="#d9dbde" stroke-width="1.3"/><line x1="766.8" y1="148.1" x2="865.3" y2="73.6" stroke="#7f8288" stroke-width="0.7" stroke-dasharray="1.5 5"/><rect x="771.3" y="149.1" width="1" height="2.2" fill="#7b7d80"/><rect x="773.7" y="149.1" width="1" height="2.2" fill="#7b7d80"/><rect x="779.6" y="143" width="1" height="2.2" fill="#7b7d80"/><rect x="782" y="143" width="1" height="2.2" fill="#7b7d80"/><rect x="787.8" y="136.8" width="1" height="2.2" fill="#7b7d80"/><rect x="790.2" y="136.8" width="1" height="2.2" fill="#7b7d80"/><rect x="796" y="130.7" width="1" height="2.2" fill="#7b7d80"/><rect x="798.4" y="130.7" width="1" height="2.2" fill="#7b7d80"/><rect x="804.2" y="124.5" width="1" height="2.2" fill="#7b7d80"/><rect x="806.6" y="124.5" width="1" height="2.2" fill="#7b7d80"/><rect x="812.4" y="118.4" width="1" height="2.2" fill="#7b7d80"/><rect x="814.8" y="118.4" width="1" height="2.2" fill="#7b7d80"/><rect x="820.6" y="112.2" width="1" height="2.2" fill="#7b7d80"/><rect x="823" y="112.2" width="1" height="2.2" fill="#7b7d80"/><rect x="828.8" y="106.1" width="1" height="2.2" fill="#7b7d80"/><rect x="831.2" y="106.1" width="1" height="2.2" fill="#7b7d80"/><rect x="837" y="99.9" width="1" height="2.2" fill="#7b7d80"/><rect x="839.4" y="99.9" width="1" height="2.2" fill="#7b7d80"/><rect x="845.2" y="93.8" width="1" height="2.2" fill="#7b7d80"/><rect x="847.6" y="93.8" width="1" height="2.2" fill="#7b7d80"/><rect x="853.4" y="87.6" width="1" height="2.2" fill="#7b7d80"/><rect x="855.8" y="87.6" width="1" height="2.2" fill="#7b7d80"/><rect x="861.6" y="81.5" width="1" height="2.2" fill="#7b7d80"/><rect x="864" y="81.5" width="1" height="2.2" fill="#7b7d80"/><polygon points="765.8,149.1 773,147.6 773,167.1 767,168.9 765.8,165.7" fill="#e9642c"/><polygon points="767.1,150.7 771.8,150.1 771.8,162.6 767.1,163.2" fill="#f1f1f1"/><line x1="769.4" y1="167.9" x2="769.4" y2="163.2" stroke="#fff" stroke-width="0.9"/><polygon points="933.8,204 998.5,130 998.5,148 933.8,212" fill="#e9642c"/><polygon points="953.2,184.8 960.9,175.9 960.9,182.6 953.2,190.3" fill="#a3461b"/><polygon points="954.7,185.8 960.3,176.9 960.3,181.1 954.7,188.8" fill="#cfc6bf"/><polygon points="967.4,168.5 975.2,159.6 975.2,168.5 967.4,176.2" fill="#a3461b"/><polygon points="968.9,169.5 974.6,160.6 974.6,167 968.9,174.7" fill="#cfc6bf"/><polygon points="981.7,152.2 989.4,143.4 989.4,154.5 981.7,162.1" fill="#a3461b"/><polygon points="983.2,153.2 988.8,144.4 988.8,153 983.2,160.6" fill="#cfc6bf"/><line x1="933.8" y1="212" x2="998.5" y2="148" stroke="#c9521f" stroke-width="1"/><polygon points="933.8,193.5 998.5,118 998.5,131 933.8,205" fill="#f3f3f3"/><line x1="933.8" y1="205" x2="998.5" y2="131" stroke="#b9bbbd" stroke-width="0.7"/><line x1="932.8" y1="192.3" x2="997.5" y2="116.8" stroke="#a4a7ad" stroke-width="3"/><line x1="931.4" y1="191.9" x2="996.1" y2="116.4" stroke="#d9dbde" stroke-width="1.3"/><line x1="933.5" y1="193.1" x2="998.3" y2="117.6" stroke="#7f8288" stroke-width="0.7" stroke-dasharray="1.5 5"/><rect x="937.4" y="192.3" width="1" height="2.2" fill="#7b7d80"/><rect x="939.8" y="192.3" width="1" height="2.2" fill="#7b7d80"/><rect x="944.6" y="184" width="1" height="2.2" fill="#7b7d80"/><rect x="947" y="184" width="1" height="2.2" fill="#7b7d80"/><rect x="951.8" y="175.7" width="1" height="2.2" fill="#7b7d80"/><rect x="954.2" y="175.7" width="1" height="2.2" fill="#7b7d80"/><rect x="959" y="167.4" width="1" height="2.2" fill="#7b7d80"/><rect x="961.4" y="167.4" width="1" height="2.2" fill="#7b7d80"/><rect x="966.2" y="159.1" width="1" height="2.2" fill="#7b7d80"/><rect x="968.6" y="159.1" width="1" height="2.2" fill="#7b7d80"/><rect x="973.4" y="150.8" width="1" height="2.2" fill="#7b7d80"/><rect x="975.8" y="150.8" width="1" height="2.2" fill="#7b7d80"/><rect x="980.6" y="142.5" width="1" height="2.2" fill="#7b7d80"/><rect x="983" y="142.5" width="1" height="2.2" fill="#7b7d80"/><rect x="987.7" y="134.2" width="1" height="2.2" fill="#7b7d80"/><rect x="990.1" y="134.2" width="1" height="2.2" fill="#7b7d80"/><rect x="994.9" y="125.9" width="1" height="2.2" fill="#7b7d80"/><rect x="997.3" y="125.9" width="1" height="2.2" fill="#7b7d80"/><polygon points="932.5,194.1 939.8,192.6 939.8,212.6 933.8,214.4 932.5,211.2" fill="#e9642c"/><polygon points="933.9,195.7 938.5,195.1 938.5,207.4 933.9,208.2" fill="#f1f1f1"/><line x1="936.1" y1="213.4" x2="936.1" y2="208.2" stroke="#fff" stroke-width="0.9"/><polygon points="836,151.3 847.1,163.6 848.3,158 863.3,161.4 862,167 877.3,160.7 866.2,148.4 865,154 850,150.6 851.3,145" fill="#f26a21"/><polygon points="580,416.2 616.2,367.5 612.5,390 577.5,449.5" fill="url(#lg22)"/><polygon points="361,380 580,416.2 577.5,449.5 359,414" fill="url(#lg23)"/><line x1="359" y1="414" x2="577.5" y2="449.5" stroke="#aeb2b0" stroke-width="0.8"/><polygon points="411.2,339.5 616.2,367.5 580,416.2 361,380" fill="url(#lg24)"/><line x1="402.7" y1="347.6" x2="611.4" y2="375.5" stroke="#a5a9b0" stroke-width="0.9" opacity="0.55"/><line x1="402.7" y1="346.4" x2="611.4" y2="374.1" stroke="#17191c" stroke-width="1.8"/><line x1="393.2" y1="355.3" x2="604.8" y2="384.3" stroke="#a5a9b0" stroke-width="0.9" opacity="0.55"/><line x1="393.2" y1="354.1" x2="604.8" y2="382.9" stroke="#17191c" stroke-width="1.8"/><line x1="383.6" y1="363" x2="597.4" y2="394.2" stroke="#a5a9b0" stroke-width="0.9" opacity="0.55"/><line x1="383.6" y1="361.8" x2="597.4" y2="392.9" stroke="#17191c" stroke-width="1.8"/><line x1="373.6" y1="371.1" x2="589.1" y2="405.5" stroke="#a5a9b0" stroke-width="0.9" opacity="0.55"/><line x1="373.6" y1="369.9" x2="589.1" y2="404.1" stroke="#17191c" stroke-width="1.8"/><line x1="364.5" y1="378.4" x2="581.6" y2="415.5" stroke="#a5a9b0" stroke-width="0.9" opacity="0.55"/><line x1="364.5" y1="377.2" x2="581.6" y2="414.1" stroke="#17191c" stroke-width="1.8"/><line x1="361" y1="380" x2="580" y2="416.2" stroke="#8a8e96" stroke-width="0.8" opacity="0.8"/><polygon points="611.7,372.5 614.6,370.3 614,377.7 611.4,379.9" fill="#c3c8ca"/><polygon points="608.8,373.2 611.8,372.6 611.5,379.7 610,381.3 608.5,380.1" fill="#1d1f22"/><polygon points="605.1,381.3 608,379.1 607.4,386.5 604.8,388.7" fill="#c3c8ca"/><polygon points="602.2,382 605.2,381.4 604.9,388.5 603.4,390.1 601.9,388.9" fill="#1d1f22"/><polygon points="597.7,391.2 600.6,389.1 600,396.5 597.4,398.7" fill="#c3c8ca"/><polygon points="594.8,392 597.8,391.4 597.5,398.5 596,400.1 594.5,398.9" fill="#1d1f22"/><polygon points="589.4,402.5 592.3,400.3 591.7,407.7 589.1,409.9" fill="#c3c8ca"/><polygon points="586.5,403.2 589.5,402.6 589.2,409.7 587.7,411.3 586.2,410.1" fill="#1d1f22"/><polygon points="581.9,412.5 584.8,410.3 584.2,417.7 581.6,419.9" fill="#c3c8ca"/><polygon points="579,413.2 582,412.6 581.7,419.7 580.2,421.3 578.7,420.1" fill="#1d1f22"/><line x1="468" y1="348" x2="427.5" y2="388.8" stroke="#5a5e66" stroke-width="3.8"/><line x1="468" y1="348" x2="427.5" y2="388.8" stroke="#b9bdc2" stroke-width="2.3" stroke-dasharray="4 0.6"/><line x1="556.2" y1="361.2" x2="520" y2="402.5" stroke="#5a5e66" stroke-width="3.8"/><line x1="556.2" y1="361.2" x2="520" y2="402.5" stroke="#b9bdc2" stroke-width="2.3" stroke-dasharray="4 0.6"/><polygon points="513.8,410 521.2,411 521.2,446 513.8,445" fill="#3a3b3f"/><polygon points="344.8,478.5 367.5,468 367.5,472.5 345.2,485.5" fill="#e9642c"/><polygon points="340,462.5 348.8,463.5 348.8,485 344.8,486.5 340,482.5" fill="#e9642c"/><polygon points="341.6,466.5 346.9,467.1 346.9,480 341.6,478.5" fill="#f1f1f1"/><polygon points="342.5,456.7 357.5,447 473,431 491,432.5 446.7,479.2" fill="url(#lg16)"/><polygon points="342.5,456.7 446.7,479.2 446.7,481.3 342.5,458.8" fill="#9c9ea6"/><polygon points="447,489.5 505,417.8 505,440.8 447,503.5" fill="#e9642c"/><polygon points="464.4,471 471.4,462.4 471.4,474.7 464.4,482.2" fill="#a3461b"/><polygon points="465.9,472 470.8,463.4 470.8,473.2 465.9,480.7" fill="#cfc6bf"/><polygon points="477.2,455.2 484.1,446.6 484.1,460.9 477.2,468.4" fill="#a3461b"/><polygon points="478.7,456.2 483.5,447.6 483.5,459.4 478.7,466.9" fill="#cfc6bf"/><polygon points="489.9,439.4 496.9,430.8 496.9,447.1 489.9,454.6" fill="#a3461b"/><polygon points="491.4,440.4 496.3,431.8 496.3,445.6 491.4,453.1" fill="#cfc6bf"/><line x1="447" y1="503.5" x2="505" y2="440.8" stroke="#c9521f" stroke-width="1"/><polygon points="447,479.5 505,407.8 505,418.8 447,490.5" fill="#f3f3f3"/><line x1="447" y1="490.5" x2="505" y2="418.8" stroke="#b9bbbd" stroke-width="0.7"/><line x1="446" y1="478.3" x2="504" y2="406.6" stroke="#a4a7ad" stroke-width="3"/><line x1="444.6" y1="477.9" x2="502.6" y2="406.2" stroke="#d9dbde" stroke-width="1.3"/><line x1="446.8" y1="479.1" x2="504.8" y2="407.4" stroke="#7f8288" stroke-width="0.7" stroke-dasharray="1.5 5"/><rect x="450.1" y="478.3" width="1" height="2.2" fill="#7b7d80"/><rect x="452.5" y="478.3" width="1" height="2.2" fill="#7b7d80"/><rect x="456.6" y="470.4" width="1" height="2.2" fill="#7b7d80"/><rect x="459" y="470.4" width="1" height="2.2" fill="#7b7d80"/><rect x="463" y="462.4" width="1" height="2.2" fill="#7b7d80"/><rect x="465.4" y="462.4" width="1" height="2.2" fill="#7b7d80"/><rect x="469.4" y="454.4" width="1" height="2.2" fill="#7b7d80"/><rect x="471.8" y="454.4" width="1" height="2.2" fill="#7b7d80"/><rect x="475.9" y="446.5" width="1" height="2.2" fill="#7b7d80"/><rect x="478.3" y="446.5" width="1" height="2.2" fill="#7b7d80"/><rect x="482.3" y="438.5" width="1" height="2.2" fill="#7b7d80"/><rect x="484.7" y="438.5" width="1" height="2.2" fill="#7b7d80"/><rect x="488.8" y="430.5" width="1" height="2.2" fill="#7b7d80"/><rect x="491.2" y="430.5" width="1" height="2.2" fill="#7b7d80"/><rect x="495.2" y="422.6" width="1" height="2.2" fill="#7b7d80"/><rect x="497.6" y="422.6" width="1" height="2.2" fill="#7b7d80"/><rect x="501.7" y="414.6" width="1" height="2.2" fill="#7b7d80"/><rect x="504.1" y="414.6" width="1" height="2.2" fill="#7b7d80"/><polygon points="442.5,480.1 454,478.6 454,504.1 443.7,505.9 442.5,502.7" fill="#e9642c"/><polygon points="443.8,481.7 452.8,481.1 452.8,495.1 443.8,496.4" fill="#f1f1f1"/><line x1="448.2" y1="504.9" x2="448.2" y2="496.4" stroke="#fff" stroke-width="0.9"/><polygon points="454.2,448 475,418 475,453.3 454.2,465" fill="url(#lg17)"/><polygon points="357.5,430.4 454.2,448 454.2,465 357.5,455" fill="url(#lg18)"/><polygon points="454.2,440.8 489.2,401.7 489.2,406.7 454.2,448" fill="url(#lg19)"/><polygon points="340,420 454.2,440.8 454.2,448 340,427.2" fill="url(#lg20)"/><polygon points="340,420 380,384.2 489.2,401.7 454.2,440.8" fill="url(#lg21)"/><line x1="340" y1="420" x2="454.2" y2="440.8" stroke="#b7bac8" stroke-width="0.7"/><polygon points="1026.5,409 1063.8,358.8 1060,382 1025.5,445.5" fill="url(#lg25)"/><polygon points="801.2,378.8 1026.5,409 1025.5,445.5 802.5,411.2" fill="url(#lg26)"/><line x1="802.5" y1="411.2" x2="1025.5" y2="445.5" stroke="#aeb2b0" stroke-width="0.8"/><polygon points="852.5,332.5 1063.8,358.8 1026.5,409 801.2,378.8" fill="url(#lg27)"/><line x1="845" y1="339.9" x2="1059.7" y2="365.7" stroke="#a5a9b0" stroke-width="0.9" opacity="0.55"/><line x1="845" y1="338.8" x2="1059.7" y2="364.3" stroke="#17191c" stroke-width="1.8"/><line x1="837" y1="346.9" x2="1052.6" y2="375.2" stroke="#a5a9b0" stroke-width="0.9" opacity="0.55"/><line x1="837" y1="345.8" x2="1052.6" y2="373.8" stroke="#17191c" stroke-width="1.8"/><line x1="828" y1="355.4" x2="1044.8" y2="385.8" stroke="#a5a9b0" stroke-width="0.9" opacity="0.55"/><line x1="828" y1="354.2" x2="1044.8" y2="384.4" stroke="#17191c" stroke-width="1.8"/><line x1="818.8" y1="364.2" x2="1036.6" y2="396.8" stroke="#a5a9b0" stroke-width="0.9" opacity="0.55"/><line x1="818.8" y1="363" x2="1036.6" y2="395.4" stroke="#17191c" stroke-width="1.8"/><line x1="809.5" y1="373.2" x2="1029.5" y2="406.4" stroke="#a5a9b0" stroke-width="0.9" opacity="0.55"/><line x1="809.5" y1="372" x2="1029.5" y2="405" stroke="#17191c" stroke-width="1.8"/><line x1="801.2" y1="378.8" x2="1026.5" y2="409" stroke="#8a8e96" stroke-width="0.8" opacity="0.8"/><polygon points="1060,362.7 1062.9,360.5 1062.3,367.9 1059.7,370.1" fill="#c3c8ca"/><polygon points="1057.1,363.4 1060.1,362.8 1059.8,369.9 1058.3,371.5 1056.8,370.3" fill="#1d1f22"/><polygon points="1052.9,372.2 1055.8,370 1055.2,377.4 1052.6,379.6" fill="#c3c8ca"/><polygon points="1050,372.9 1053,372.3 1052.7,379.4 1051.2,381 1049.7,379.8" fill="#1d1f22"/><polygon points="1045.1,382.8 1048,380.6 1047.4,388 1044.8,390.2" fill="#c3c8ca"/><polygon points="1042.2,383.5 1045.2,382.9 1044.9,390 1043.4,391.6 1041.9,390.4" fill="#1d1f22"/><polygon points="1036.9,393.8 1039.8,391.6 1039.2,399 1036.6,401.2" fill="#c3c8ca"/><polygon points="1034,394.5 1037,393.9 1036.7,401 1035.2,402.6 1033.7,401.4" fill="#1d1f22"/><polygon points="1029.8,403.4 1032.7,401.2 1032.1,408.6 1029.5,410.8" fill="#c3c8ca"/><polygon points="1026.9,404.1 1029.9,403.5 1029.6,410.6 1028.1,412.2 1026.6,411" fill="#1d1f22"/><line x1="998.8" y1="352.5" x2="962.5" y2="397.5" stroke="#5a5e66" stroke-width="3.8"/><line x1="998.8" y1="352.5" x2="962.5" y2="397.5" stroke="#b9bdc2" stroke-width="2.3" stroke-dasharray="4 0.6"/><polygon points="872.5,387.5 945,398.5 945,431 872.5,420" fill="url(#lg28)"/><polygon points="873.8,352 963.8,364.5 963.8,392.5 873.8,379.5" fill="url(#lg29)"/><polygon points="893,366 935,358 948,360 905,376" fill="#c7c2c4" opacity="0.55"/><polygon points="915,368 942,362 946,366 922,374" fill="#d98b6a" opacity="0.5"/><polygon points="966,359 993.5,329 993.5,333.6 966,363.6" fill="#4b4d57"/><polygon points="863.5,346.5 966,359 966,363.6 863.5,351.1" fill="url(#lg30)"/><polygon points="894.5,316.2 993.5,329 966,359 863.5,346.5" fill="url(#lg31)"/><line x1="863.5" y1="346.5" x2="966" y2="359" stroke="#b9bcc8" stroke-width="0.7"/><polygon points="866.2,386.5 872.5,387.5 872.5,425 866.2,424" fill="#3a3b3f"/><polygon points="945,399 952.5,400 952.5,433 945,432" fill="#3a3b3f"/><polygon points="960,401.5 967.5,402.5 967.5,440 960,439" fill="#3a3b3f"/><polygon points="781.5,470.5 866.2,402 866.2,424 781.5,480.5" fill="#e9642c"/><polygon points="806.9,452.9 817.1,444.7 817.1,454.3 806.9,461.1" fill="#a3461b"/><polygon points="808.4,453.9 816.5,445.7 816.5,452.8 808.4,459.6" fill="#cfc6bf"/><polygon points="825.6,437.9 835.7,429.7 835.7,441.8 825.6,448.6" fill="#a3461b"/><polygon points="827.1,438.9 835.1,430.7 835.1,440.3 827.1,447.1" fill="#cfc6bf"/><polygon points="844.2,422.8 854.4,414.6 854.4,429.4 844.2,436.2" fill="#a3461b"/><polygon points="845.7,423.8 853.8,415.6 853.8,427.9 845.7,434.7" fill="#cfc6bf"/><line x1="781.5" y1="480.5" x2="866.2" y2="424" stroke="#c9521f" stroke-width="1"/><polygon points="781.5,461.5 866.2,388 866.2,403 781.5,471.5" fill="#f3f3f3"/><line x1="781.5" y1="471.5" x2="866.2" y2="403" stroke="#b9bbbd" stroke-width="0.7"/><line x1="780.5" y1="460.3" x2="865.2" y2="386.8" stroke="#a4a7ad" stroke-width="3"/><line x1="779.1" y1="459.9" x2="863.9" y2="386.4" stroke="#d9dbde" stroke-width="1.3"/><line x1="781.3" y1="461.1" x2="866" y2="387.6" stroke="#7f8288" stroke-width="0.7" stroke-dasharray="1.5 5"/><rect x="785.5" y="460.9" width="1" height="2.2" fill="#7b7d80"/><rect x="787.9" y="460.9" width="1" height="2.2" fill="#7b7d80"/><rect x="793.2" y="454.4" width="1" height="2.2" fill="#7b7d80"/><rect x="795.6" y="454.4" width="1" height="2.2" fill="#7b7d80"/><rect x="800.9" y="448" width="1" height="2.2" fill="#7b7d80"/><rect x="803.3" y="448" width="1" height="2.2" fill="#7b7d80"/><rect x="808.6" y="441.5" width="1" height="2.2" fill="#7b7d80"/><rect x="811" y="441.5" width="1" height="2.2" fill="#7b7d80"/><rect x="816.3" y="435.1" width="1" height="2.2" fill="#7b7d80"/><rect x="818.7" y="435.1" width="1" height="2.2" fill="#7b7d80"/><rect x="824" y="428.6" width="1" height="2.2" fill="#7b7d80"/><rect x="826.4" y="428.6" width="1" height="2.2" fill="#7b7d80"/><rect x="831.7" y="422.2" width="1" height="2.2" fill="#7b7d80"/><rect x="834.1" y="422.2" width="1" height="2.2" fill="#7b7d80"/><rect x="839.4" y="415.7" width="1" height="2.2" fill="#7b7d80"/><rect x="841.8" y="415.7" width="1" height="2.2" fill="#7b7d80"/><rect x="847.1" y="409.2" width="1" height="2.2" fill="#7b7d80"/><rect x="849.5" y="409.2" width="1" height="2.2" fill="#7b7d80"/><rect x="854.8" y="402.8" width="1" height="2.2" fill="#7b7d80"/><rect x="857.2" y="402.8" width="1" height="2.2" fill="#7b7d80"/><rect x="862.5" y="396.3" width="1" height="2.2" fill="#7b7d80"/><rect x="864.9" y="396.3" width="1" height="2.2" fill="#7b7d80"/><polygon points="780.3,462.1 787.5,460.6 787.5,481.1 781.5,482.9 780.3,479.7" fill="#e9642c"/><polygon points="781.6,463.7 786.3,463.1 786.3,474.6 781.6,475.6" fill="#f1f1f1"/><line x1="783.9" y1="481.9" x2="783.9" y2="475.6" stroke="#fff" stroke-width="0.9"/><polygon points="944,431 962,433 961,443 958.5,522 955,566 951,566 951,443 944,441" fill="#e9642c"/><polygon points="954.2,450 958,450 957,500 954.2,524" fill="#b8481c"/><polygon points="939.8,441 951.3,442 953.9,589 942.6,590" fill="#f0f0f0"/><line x1="940.6" y1="441" x2="943.4" y2="589.5" stroke="#a5a8ad" stroke-width="1.8"/><line x1="945.4" y1="446" x2="947.6" y2="588" stroke="#85888d" stroke-width="1" stroke-dasharray="2.2 7"/><line x1="948" y1="446" x2="950.2" y2="588" stroke="#85888d" stroke-width="1" stroke-dasharray="2.2 7"/><polygon points="864.9,465.4 862.1,465.7 859.5,466.2 857,467 854.6,468 852.5,469.3 850.5,470.8 848.7,472.4 847.1,474.3 845.8,476.2 844.7,478.3 843.8,480.5 843.2,482.8 842.9,485.1 842.8,487.5 843.1,489.8 843.6,492.2 844.5,494.5 845.7,496.7 847.3,498.8 849.2,500.8 851.5,502.6 854,504.2 856.9,505.5 860.2,506.6 861.8,500.4 859.1,499.6 856.8,498.7 854.7,497.6 853,496.4 851.5,495.1 850.2,493.6 849.2,492.1 848.4,490.5 847.9,488.8 847.5,487.1 847.4,485.3 847.5,483.5 847.8,481.7 848.4,479.8 849.1,478.1 850.1,476.4 851.3,474.7 852.7,473.2 854.3,471.8 856,470.6 858,469.5 860.2,468.6 862.5,468 865.1,467.6" fill="#f26a21"/><polygon points="878.5,509 863.5,494 856,513" fill="#f26a21"/><polygon points="580,761.2 616.2,713.8 612.5,735 577.5,802.5" fill="url(#lg38)"/><polygon points="346.2,732.5 580,761.2 577.5,802.5 346.2,770" fill="url(#lg39)"/><line x1="346.2" y1="770" x2="577.5" y2="802.5" stroke="#aeb2b0" stroke-width="0.8"/><polygon points="401.2,686.2 616.2,713.8 580,761.2 346.2,732.5" fill="url(#lg40)"/><line x1="393.8" y1="693.7" x2="611.4" y2="721.6" stroke="#a5a9b0" stroke-width="0.9" opacity="0.55"/><line x1="393.8" y1="692.5" x2="611.4" y2="720.2" stroke="#17191c" stroke-width="1.8"/><line x1="384.9" y1="701.2" x2="604.8" y2="730.1" stroke="#a5a9b0" stroke-width="0.9" opacity="0.55"/><line x1="384.9" y1="700" x2="604.8" y2="728.7" stroke="#17191c" stroke-width="1.8"/><line x1="375.4" y1="709.2" x2="597.4" y2="739.9" stroke="#a5a9b0" stroke-width="0.9" opacity="0.55"/><line x1="375.4" y1="708" x2="597.4" y2="738.5" stroke="#17191c" stroke-width="1.8"/><line x1="365.5" y1="717.5" x2="589.1" y2="750.8" stroke="#a5a9b0" stroke-width="0.9" opacity="0.55"/><line x1="365.5" y1="716.3" x2="589.1" y2="749.4" stroke="#17191c" stroke-width="1.8"/><line x1="355.8" y1="725.7" x2="581.6" y2="760.5" stroke="#a5a9b0" stroke-width="0.9" opacity="0.55"/><line x1="355.8" y1="724.5" x2="581.6" y2="759.1" stroke="#17191c" stroke-width="1.8"/><line x1="346.2" y1="732.5" x2="580" y2="761.2" stroke="#8a8e96" stroke-width="0.8" opacity="0.8"/><polygon points="611.7,718.6 614.6,716.4 614,723.8 611.4,726" fill="#c3c8ca"/><polygon points="608.8,719.3 611.8,718.7 611.5,725.8 610,727.4 608.5,726.2" fill="#1d1f22"/><polygon points="605.1,727.1 608,724.9 607.4,732.3 604.8,734.5" fill="#c3c8ca"/><polygon points="602.2,727.8 605.2,727.2 604.9,734.3 603.4,735.9 601.9,734.7" fill="#1d1f22"/><polygon points="597.7,736.9 600.6,734.7 600,742.1 597.4,744.2" fill="#c3c8ca"/><polygon points="594.8,737.6 597.8,737 597.5,744.1 596,745.7 594.5,744.5" fill="#1d1f22"/><polygon points="589.4,747.8 592.3,745.6 591.7,753 589.1,755.2" fill="#c3c8ca"/><polygon points="586.5,748.5 589.5,747.9 589.2,755 587.7,756.6 586.2,755.4" fill="#1d1f22"/><polygon points="581.9,757.5 584.8,755.3 584.2,762.7 581.6,764.9" fill="#c3c8ca"/><polygon points="579,758.2 582,757.6 581.7,764.7 580.2,766.3 578.7,765.1" fill="#1d1f22"/><line x1="460" y1="695" x2="440" y2="715" stroke="#5a5e66" stroke-width="3.8"/><line x1="460" y1="695" x2="440" y2="715" stroke="#b9bdc2" stroke-width="2.3" stroke-dasharray="4 0.6"/><line x1="550" y1="707.5" x2="513.8" y2="751.2" stroke="#5a5e66" stroke-width="3.8"/><line x1="550" y1="707.5" x2="513.8" y2="751.2" stroke="#b9bdc2" stroke-width="2.3" stroke-dasharray="4 0.6"/><polygon points="506.2,760 517.5,761.5 517.5,781 506.2,779.5" fill="#3a3b3f"/><polygon points="361.6,781 368,780 378.4,782.5 389,786.7 389,790.9 378.4,795.1 372.8,801 367.2,800 361,796.4" fill="#e9642c"/><polygon points="364.9,782.5 369.4,782.1 369.4,793 364.9,792.6" fill="#f0e4dc"/><polygon points="370.5,784.2 375.6,784.6 372.2,793.9 370.5,793.4" fill="#c9cbcf"/><line x1="369.4" y1="782.1" x2="369.4" y2="798.9" stroke="#b74d1c" stroke-width="0.8"/><polygon points="365,774 381.2,765 497,762 506.5,760.5 478.3,795" fill="#5d5f67"/><polygon points="480,797 509,764.5 509,772 492,792 484,806" fill="#e9642c"/><polygon points="486,793 498,779 498,783 489,794" fill="#b04a1c"/><line x1="478.8" y1="796" x2="508" y2="763" stroke="#e9eaec" stroke-width="3.2"/><line x1="477.5" y1="794.6" x2="506.7" y2="761.8" stroke="#a9acb2" stroke-width="1.2"/><polygon points="463.9,798.5 468.8,797.5 476.5,799.9 484.5,803.9 484.5,807.9 476.5,811.9 472.3,817.5 468.1,816.5 463.5,813.1" fill="#e9642c"/><polygon points="466.4,799.9 469.8,799.5 469.8,809.9 466.4,809.5" fill="#f0e4dc"/><polygon points="470.6,801.5 474.4,801.9 471.9,810.7 470.6,810.3" fill="#c9cbcf"/><line x1="469.8" y1="799.5" x2="469.8" y2="815.5" stroke="#b74d1c" stroke-width="0.8"/><polygon points="478.3,755 497,740 497,765.5 478.3,787" fill="url(#lg32)"/><polygon points="365,739.5 478.3,755.8 478.3,775.2 381.7,768.3 365,774" fill="url(#lg33)"/><polygon points="381.7,766 478.3,773.2 478.3,787.3 381.7,779" fill="url(#lg34)"/><polygon points="365,774 381.7,778.3 478.3,786.8 478.3,795.6 366.8,779.8" fill="url(#lg35)"/><polygon points="478.3,753.3 511.2,721.2 511.2,726 478.3,758.2" fill="#5b5d67"/><polygon points="365,737.5 478.3,753.3 478.3,758.2 365,742.2" fill="url(#lg36)"/><polygon points="365,737.5 397.5,705 511.2,721.2 478.3,753.3" fill="url(#lg37)"/><line x1="365" y1="737.5" x2="478.3" y2="753.3" stroke="#c0c3ce" stroke-width="0.7"/><polygon points="1037.5,765.5 1073.6,713.2 1071.2,737 1035.5,799" fill="url(#lg41)"/><polygon points="810,727.5 1037.5,765.5 1035.5,799 811.2,760" fill="url(#lg42)"/><line x1="811.2" y1="760" x2="1035.5" y2="799" stroke="#aeb2b0" stroke-width="0.8"/><polygon points="865,683.8 1073.6,713.2 1037.5,765.5 810,727.5" fill="url(#lg43)"/><line x1="858.8" y1="690" x2="1069.6" y2="720.4" stroke="#a5a9b0" stroke-width="0.9" opacity="0.55"/><line x1="858.8" y1="688.8" x2="1069.6" y2="719" stroke="#17191c" stroke-width="1.8"/><line x1="851.2" y1="697.5" x2="1062.8" y2="730.3" stroke="#a5a9b0" stroke-width="0.9" opacity="0.55"/><line x1="851.2" y1="696.2" x2="1062.8" y2="728.9" stroke="#17191c" stroke-width="1.8"/><line x1="841.2" y1="706.2" x2="1055.2" y2="741.3" stroke="#a5a9b0" stroke-width="0.9" opacity="0.55"/><line x1="841.2" y1="705" x2="1055.2" y2="739.9" stroke="#17191c" stroke-width="1.8"/><line x1="830" y1="715" x2="1047.2" y2="752.8" stroke="#a5a9b0" stroke-width="0.9" opacity="0.55"/><line x1="830" y1="713.8" x2="1047.2" y2="751.4" stroke="#17191c" stroke-width="1.8"/><line x1="820" y1="723.7" x2="1040.4" y2="762.7" stroke="#a5a9b0" stroke-width="0.9" opacity="0.55"/><line x1="820" y1="722.5" x2="1040.4" y2="761.3" stroke="#17191c" stroke-width="1.8"/><line x1="810" y1="727.5" x2="1037.5" y2="765.5" stroke="#8a8e96" stroke-width="0.8" opacity="0.8"/><polygon points="1069.9,717.4 1072.8,715.2 1072.2,722.6 1069.6,724.8" fill="#c3c8ca"/><polygon points="1067,718.1 1070,717.5 1069.7,724.6 1068.2,726.2 1066.7,725" fill="#1d1f22"/><polygon points="1063.1,727.3 1066,725.1 1065.4,732.5 1062.8,734.7" fill="#c3c8ca"/><polygon points="1060.2,728 1063.2,727.4 1062.9,734.5 1061.4,736.1 1059.9,734.9" fill="#1d1f22"/><polygon points="1055.5,738.3 1058.4,736.1 1057.8,743.5 1055.2,745.7" fill="#c3c8ca"/><polygon points="1052.6,739 1055.6,738.4 1055.3,745.5 1053.8,747.1 1052.3,745.9" fill="#1d1f22"/><polygon points="1047.5,749.8 1050.4,747.6 1049.8,755 1047.2,757.2" fill="#c3c8ca"/><polygon points="1044.6,750.5 1047.6,749.9 1047.3,757 1045.8,758.6 1044.3,757.4" fill="#1d1f22"/><polygon points="1040.7,759.7 1043.6,757.5 1043,764.9 1040.4,767.1" fill="#c3c8ca"/><polygon points="1037.8,760.4 1040.8,759.8 1040.5,766.9 1039,768.5 1037.5,767.3" fill="#1d1f22"/><line x1="1008.8" y1="706.2" x2="977.5" y2="748.8" stroke="#5a5e66" stroke-width="3.8"/><line x1="1008.8" y1="706.2" x2="977.5" y2="748.8" stroke="#b9bdc2" stroke-width="2.3" stroke-dasharray="4 0.6"/><polygon points="862.5,738 977.5,753 977.5,781 968.5,781 968.5,760 862.5,745" fill="#2d2e32"/><polygon points="872.5,752.5 968,768.5 968,780 940,779.5 925,775.5 888,768.5 872.5,762.5" fill="#e9642c"/><polygon points="888.7,758.2 919.3,763 919.3,768.5 894,765.5" fill="#7e8085"/><line x1="888.7" y1="758.2" x2="919.3" y2="763" stroke="#3a3c41" stroke-width="1.4"/><polygon points="928.7,765 950,768.3 950,774.5 928.7,771.5" fill="#7e8085"/><line x1="928.7" y1="765" x2="950" y2="768.3" stroke="#3a3c41" stroke-width="1.4"/><polygon points="872,745.3 968.7,761.3 968.7,769.3 872,753.3" fill="#eeeeef"/><line x1="872" y1="753.3" x2="968.7" y2="769.3" stroke="#a9abae" stroke-width="0.8"/><line x1="872" y1="744.1" x2="968.7" y2="760.1" stroke="#9a9da3" stroke-width="2.6"/><polygon points="960,770.5 977.5,772 977.5,781 960,780.5" fill="#2b2c30"/><polygon points="882.7,705 971.5,718.5 971.5,752 882.7,737" fill="url(#lg44)"/><polygon points="905,722 940,713 952,715 915,731" fill="#c7c2c4" opacity="0.55"/><polygon points="925,723 948,717 951,721 930,728" fill="#d98b6a" opacity="0.5"/><polygon points="972.3,713.3 1002.3,682.5 1002.3,687.7 972.3,718.5" fill="#4b4d57"/><polygon points="869.5,700 972.3,713.3 972.3,718.5 869.5,705.2" fill="url(#lg45)"/><polygon points="903.3,668.7 1002.3,682.5 972.3,713.3 869.5,700" fill="url(#lg46)"/><line x1="869.5" y1="700" x2="972.3" y2="713.3" stroke="#b9bcc8" stroke-width="0.7"/><polygon points="824,788.5 866.2,755.5 866.2,770.5 824,798.5" fill="#e9642c"/><polygon points="836.7,781.6 841.7,777.6 841.7,784.2 836.7,787.6" fill="#a3461b"/><polygon points="838.2,782.6 841.1,778.6 841.1,782.7 838.2,786.1" fill="#cfc6bf"/><polygon points="846,774.3 851,770.4 851,778.1 846,781.4" fill="#a3461b"/><polygon points="847.5,775.3 850.4,771.4 850.4,776.6 847.5,779.9" fill="#cfc6bf"/><line x1="824" y1="798.5" x2="866.2" y2="770.5" stroke="#c9521f" stroke-width="1"/><polygon points="824,781.5 866.2,746.5 866.2,756.5 824,789.5" fill="#f3f3f3"/><line x1="824" y1="789.5" x2="866.2" y2="756.5" stroke="#b9bbbd" stroke-width="0.7"/><line x1="823" y1="780.3" x2="865.2" y2="745.3" stroke="#a4a7ad" stroke-width="3"/><line x1="821.6" y1="779.9" x2="863.9" y2="744.9" stroke="#d9dbde" stroke-width="1.3"/><line x1="823.8" y1="781.1" x2="866" y2="746.1" stroke="#7f8288" stroke-width="0.7" stroke-dasharray="1.5 5"/><rect x="828.5" y="779.6" width="1" height="2.2" fill="#7b7d80"/><rect x="830.9" y="779.6" width="1" height="2.2" fill="#7b7d80"/><rect x="837" y="772.8" width="1" height="2.2" fill="#7b7d80"/><rect x="839.4" y="772.8" width="1" height="2.2" fill="#7b7d80"/><rect x="845.4" y="766" width="1" height="2.2" fill="#7b7d80"/><rect x="847.8" y="766" width="1" height="2.2" fill="#7b7d80"/><rect x="853.9" y="759.2" width="1" height="2.2" fill="#7b7d80"/><rect x="856.3" y="759.2" width="1" height="2.2" fill="#7b7d80"/><rect x="862.3" y="752.4" width="1" height="2.2" fill="#7b7d80"/><rect x="864.7" y="752.4" width="1" height="2.2" fill="#7b7d80"/><polygon points="822.8,782.1 830,780.6 830,799.1 824,800.9 822.8,797.7" fill="#e9642c"/><polygon points="824.1,783.7 828.8,783.1 828.8,792.6 824.1,793.5" fill="#f1f1f1"/><line x1="826.4" y1="799.9" x2="826.4" y2="793.5" stroke="#fff" stroke-width="0.9"/><polygon points="929.6,793.5 927.9,795.5 926.1,797.4 924.2,799.1 922.2,800.6 920.2,801.9 918,803 915.9,804 913.6,804.7 911.4,805.3 909.2,805.8 907,806 904.9,806.1 902.7,806 900.7,805.8 898.8,805.4 897,804.9 895.3,804.2 893.7,803.3 892.3,802.4 891,801.3 889.9,800.1 889,798.8 888.3,797.4 887.7,795.9 881.3,798.1 882.3,800.4 883.6,802.5 885.1,804.4 886.9,806 888.8,807.4 890.8,808.6 893,809.5 895.3,810.3 897.6,810.8 900,811.2 902.5,811.3 905,811.3 907.6,811 910.1,810.6 912.6,809.9 915.1,809.1 917.6,808.1 920,806.9 922.4,805.5 924.6,803.9 926.8,802.1 928.8,800.1 930.7,797.9 932.4,795.5" fill="#f26a21"/><polygon points="879,781 874.5,799.5 894,795" fill="#f26a21"/><polygon points="553.8,987.5 588.8,943.8 585,963.8 550,1022.5" fill="url(#lg53)"/><polygon points="355.5,951.3 553.8,987.5 550,1022.5 354,986" fill="url(#lg54)"/><line x1="354" y1="986" x2="550" y2="1022.5" stroke="#aeb2b0" stroke-width="0.8"/><polygon points="410,913.8 588.8,943.8 553.8,987.5 355.5,951.3" fill="url(#lg55)"/><line x1="400.7" y1="921.3" x2="584" y2="951.1" stroke="#a5a9b0" stroke-width="0.9" opacity="0.55"/><line x1="400.7" y1="920.1" x2="584" y2="949.7" stroke="#17191c" stroke-width="1.8"/><line x1="390.4" y1="928.5" x2="577.7" y2="958.9" stroke="#a5a9b0" stroke-width="0.9" opacity="0.55"/><line x1="390.4" y1="927.3" x2="577.7" y2="957.5" stroke="#17191c" stroke-width="1.8"/><line x1="380" y1="935.6" x2="570.5" y2="967.9" stroke="#a5a9b0" stroke-width="0.9" opacity="0.55"/><line x1="380" y1="934.4" x2="570.5" y2="966.5" stroke="#17191c" stroke-width="1.8"/><line x1="370.2" y1="942.4" x2="562.5" y2="978" stroke="#a5a9b0" stroke-width="0.9" opacity="0.55"/><line x1="370.2" y1="941.2" x2="562.5" y2="976.6" stroke="#17191c" stroke-width="1.8"/><line x1="360.9" y1="948.7" x2="555.3" y2="986.9" stroke="#a5a9b0" stroke-width="0.9" opacity="0.55"/><line x1="360.9" y1="947.5" x2="555.3" y2="985.5" stroke="#17191c" stroke-width="1.8"/><line x1="355.5" y1="951.3" x2="553.8" y2="987.5" stroke="#8a8e96" stroke-width="0.8" opacity="0.8"/><polygon points="584.3,948.1 587.2,945.9 586.6,953.3 584,955.5" fill="#c3c8ca"/><polygon points="581.4,948.8 584.4,948.2 584.1,955.3 582.6,956.9 581.1,955.7" fill="#1d1f22"/><polygon points="578,955.9 580.9,953.7 580.3,961.1 577.7,963.3" fill="#c3c8ca"/><polygon points="575.1,956.6 578.1,956 577.8,963.1 576.3,964.7 574.8,963.5" fill="#1d1f22"/><polygon points="570.8,964.9 573.8,962.7 573.1,970.1 570.5,972.3" fill="#c3c8ca"/><polygon points="567.9,965.6 570.9,965 570.6,972.1 569.1,973.7 567.6,972.5" fill="#1d1f22"/><polygon points="562.8,975 565.7,972.8 565.1,980.2 562.5,982.4" fill="#c3c8ca"/><polygon points="559.9,975.7 562.9,975.1 562.6,982.2 561.1,983.8 559.6,982.6" fill="#1d1f22"/><polygon points="555.6,983.9 558.5,981.7 557.9,989.1 555.3,991.3" fill="#c3c8ca"/><polygon points="552.7,984.6 555.7,984 555.4,991.1 553.9,992.7 552.4,991.5" fill="#1d1f22"/><line x1="457.5" y1="922" x2="417.5" y2="958.8" stroke="#5a5e66" stroke-width="3.8"/><line x1="457.5" y1="922" x2="417.5" y2="958.8" stroke="#b9bdc2" stroke-width="2.3" stroke-dasharray="4 0.6"/><line x1="530" y1="933.8" x2="493.8" y2="975" stroke="#5a5e66" stroke-width="3.8"/><line x1="530" y1="933.8" x2="493.8" y2="975" stroke="#b9bdc2" stroke-width="2.3" stroke-dasharray="4 0.6"/><polygon points="491.2,982.5 497.5,983.5 497.5,1008.5 491.2,1007.5" fill="#3a3b3f"/><ellipse cx="345" cy="1122.8" rx="13.8" ry="5.8" fill="#17171a"/><ellipse cx="345" cy="1121.2" rx="13.8" ry="5.8" fill="#2b2b2f"/><ellipse cx="342.9" cy="1120.4" rx="8.2" ry="2.9" fill="#45454a"/><rect x="340.5" y="1051" width="9" height="66" fill="url(#lg56)"/><rect x="342.1" y="1046" width="5.8" height="5.5" fill="#d7d8db"/><rect x="340.1" y="1042" width="9.9" height="4.5" fill="#8d8f94"/><rect x="340.5" y="1042.6" width="4" height="2.7" fill="#e6e7e9"/><ellipse cx="431.8" cy="1142.8" rx="14.5" ry="7" fill="#17171a"/><ellipse cx="431.8" cy="1141.2" rx="14.5" ry="7" fill="#2b2b2f"/><ellipse cx="429.6" cy="1140.2" rx="8.7" ry="3.5" fill="#45454a"/><rect x="429.2" y="1071" width="9.5" height="69" fill="url(#lg57)"/><rect x="431" y="1066" width="6.1" height="5.5" fill="#d7d8db"/><rect x="428.8" y="1062" width="10.5" height="4.5" fill="#8d8f94"/><rect x="429.2" y="1062.6" width="4.3" height="2.7" fill="#e6e7e9"/><polygon points="337.4,1034.5 356.5,1028 356.5,1032.5 338,1041.5" fill="#e9642c"/><polygon points="331.2,1023.8 342.5,1024.8 342.5,1041 337.4,1042.5 331.2,1038.5" fill="#e9642c"/><polygon points="332.9,1027.8 340.7,1028.3 340.7,1036 332.9,1034.5" fill="#f1f1f1"/><polygon points="335.8,1018.3 350,1008 458,1012 470,1004 435,1040" fill="url(#lg47)"/><polygon points="335.8,1018.3 435,1040 435,1042 335.8,1020.3" fill="#9c9ea6"/><polygon points="435.3,1050 490,989.8 490,1008.8 435.3,1062" fill="#e9642c"/><polygon points="451.7,1034.9 458.3,1027.7 458.3,1037.2 451.7,1043.5" fill="#a3461b"/><polygon points="453.2,1035.9 457.7,1028.7 457.7,1035.7 453.2,1042" fill="#cfc6bf"/><polygon points="463.7,1021.7 470.3,1014.5 470.3,1025.5 463.7,1031.8" fill="#a3461b"/><polygon points="465.2,1022.7 469.7,1015.5 469.7,1024 465.2,1030.3" fill="#cfc6bf"/><polygon points="475.8,1008.5 482.3,1001.2 482.3,1013.7 475.8,1020.1" fill="#a3461b"/><polygon points="477.3,1009.5 481.7,1002.2 481.7,1012.2 477.3,1018.6" fill="#cfc6bf"/><line x1="435.3" y1="1062" x2="490" y2="1008.8" stroke="#c9521f" stroke-width="1"/><polygon points="435.3,1040.5 490,980.3 490,990.8 435.3,1051" fill="#f3f3f3"/><line x1="435.3" y1="1051" x2="490" y2="990.8" stroke="#b9bbbd" stroke-width="0.7"/><line x1="434.3" y1="1039.3" x2="489" y2="979.1" stroke="#a4a7ad" stroke-width="3"/><line x1="432.9" y1="1038.9" x2="487.6" y2="978.7" stroke="#d9dbde" stroke-width="1.3"/><line x1="435.1" y1="1040.1" x2="489.8" y2="979.9" stroke="#7f8288" stroke-width="0.7" stroke-dasharray="1.5 5"/><rect x="438.7" y="1039.4" width="1" height="2.2" fill="#7b7d80"/><rect x="441.1" y="1039.4" width="1" height="2.2" fill="#7b7d80"/><rect x="445.5" y="1031.9" width="1" height="2.2" fill="#7b7d80"/><rect x="447.9" y="1031.9" width="1" height="2.2" fill="#7b7d80"/><rect x="452.4" y="1024.3" width="1" height="2.2" fill="#7b7d80"/><rect x="454.8" y="1024.3" width="1" height="2.2" fill="#7b7d80"/><rect x="459.2" y="1016.8" width="1" height="2.2" fill="#7b7d80"/><rect x="461.6" y="1016.8" width="1" height="2.2" fill="#7b7d80"/><rect x="466" y="1009.3" width="1" height="2.2" fill="#7b7d80"/><rect x="468.4" y="1009.3" width="1" height="2.2" fill="#7b7d80"/><rect x="472.9" y="1001.8" width="1" height="2.2" fill="#7b7d80"/><rect x="475.3" y="1001.8" width="1" height="2.2" fill="#7b7d80"/><rect x="479.7" y="994.2" width="1" height="2.2" fill="#7b7d80"/><rect x="482.1" y="994.2" width="1" height="2.2" fill="#7b7d80"/><rect x="486.5" y="986.7" width="1" height="2.2" fill="#7b7d80"/><rect x="488.9" y="986.7" width="1" height="2.2" fill="#7b7d80"/><polygon points="430.8,1041.1 442.3,1039.6 442.3,1062.6 432,1064.4 430.8,1061.2" fill="#e9642c"/><polygon points="432.1,1042.7 441.1,1042.1 441.1,1054.8 432.1,1056" fill="#f1f1f1"/><line x1="436.6" y1="1063.4" x2="436.6" y2="1056" stroke="#fff" stroke-width="0.9"/><polygon points="437,1010.1 456.7,983 456.7,1020 436.7,1030.8" fill="url(#lg48)"/><polygon points="350,994 437,1010.1 436.7,1030.8 350.8,1018.3" fill="url(#lg49)"/><polygon points="437,1004.5 470,970.8 470,974.7 437,1010.1" fill="url(#lg50)"/><polygon points="335.8,985.8 437,1004.5 437,1010.1 335.8,991.4" fill="url(#lg51)"/><polygon points="335.8,985.8 368.3,958.3 470,970.8 437,1004.5" fill="url(#lg52)"/><line x1="335.8" y1="985.8" x2="437" y2="1004.5" stroke="#b7bac8" stroke-width="0.7"/><polygon points="1046,990 1080,944.5 1077.5,971.5 1043.5,1021.5" fill="url(#lg58)"/><polygon points="836,956 1046,990 1043.5,1021.5 834.5,985" fill="url(#lg59)"/><line x1="834.5" y1="985" x2="1043.5" y2="1021.5" stroke="#aeb2b0" stroke-width="0.8"/><polygon points="887,913 1080,944.5 1046,990 836,956" fill="url(#lg60)"/><line x1="881.9" y1="918.5" x2="1076.3" y2="950.9" stroke="#a5a9b0" stroke-width="0.9" opacity="0.55"/><line x1="881.9" y1="917.3" x2="1076.3" y2="949.5" stroke="#17191c" stroke-width="1.8"/><line x1="873.2" y1="925.8" x2="1069.8" y2="959.5" stroke="#a5a9b0" stroke-width="0.9" opacity="0.55"/><line x1="873.2" y1="924.6" x2="1069.8" y2="958.1" stroke="#17191c" stroke-width="1.8"/><line x1="862" y1="935.3" x2="1062.7" y2="969.1" stroke="#a5a9b0" stroke-width="0.9" opacity="0.55"/><line x1="862" y1="934.1" x2="1062.7" y2="967.7" stroke="#17191c" stroke-width="1.8"/><line x1="849.3" y1="946" x2="1055.2" y2="979.1" stroke="#a5a9b0" stroke-width="0.9" opacity="0.55"/><line x1="849.3" y1="944.8" x2="1055.2" y2="977.7" stroke="#17191c" stroke-width="1.8"/><line x1="839.1" y1="954.6" x2="1048.7" y2="987.8" stroke="#a5a9b0" stroke-width="0.9" opacity="0.55"/><line x1="839.1" y1="953.4" x2="1048.7" y2="986.4" stroke="#17191c" stroke-width="1.8"/><line x1="836" y1="956" x2="1046" y2="990" stroke="#8a8e96" stroke-width="0.8" opacity="0.8"/><polygon points="1076.6,947.9 1079.5,945.7 1078.9,953.1 1076.3,955.3" fill="#c3c8ca"/><polygon points="1073.7,948.6 1076.7,948 1076.4,955.1 1074.9,956.7 1073.4,955.5" fill="#1d1f22"/><polygon points="1070.1,956.5 1073,954.4 1072.4,961.8 1069.8,963.9" fill="#c3c8ca"/><polygon points="1067.2,957.2 1070.2,956.6 1069.9,963.8 1068.4,965.4 1066.9,964.1" fill="#1d1f22"/><polygon points="1063,966.1 1065.9,963.9 1065.3,971.3 1062.7,973.5" fill="#c3c8ca"/><polygon points="1060.1,966.8 1063.1,966.2 1062.8,973.3 1061.3,974.9 1059.8,973.7" fill="#1d1f22"/><polygon points="1055.5,976.1 1058.4,973.9 1057.8,981.3 1055.2,983.5" fill="#c3c8ca"/><polygon points="1052.6,976.8 1055.6,976.2 1055.3,983.3 1053.8,984.9 1052.3,983.7" fill="#1d1f22"/><polygon points="1049,984.8 1051.9,982.6 1051.3,990 1048.7,992.2" fill="#c3c8ca"/><polygon points="1046.1,985.5 1049.1,984.9 1048.8,992 1047.3,993.6 1045.8,992.4" fill="#1d1f22"/><line x1="1017.5" y1="940" x2="982" y2="981.5" stroke="#5a5e66" stroke-width="3.8"/><line x1="1017.5" y1="940" x2="982" y2="981.5" stroke="#b9bdc2" stroke-width="2.3" stroke-dasharray="4 0.6"/><polygon points="899,951 903.5,951.5 903.5,959 899,958.5" fill="#4a4d55"/><polygon points="902.5,935 986,949.5 986,975 902.5,960" fill="url(#lg61)"/><polygon points="987.4,944.8 1013,914.3 1013,919.3 987.4,949.8" fill="#4b4d57"/><polygon points="898,929 987.4,944.8 987.4,949.8 898,934" fill="url(#lg62)"/><polygon points="921,898.8 1013,914.3 987.4,944.8 898,929" fill="url(#lg63)"/><line x1="898" y1="929" x2="987.4" y2="944.8" stroke="#b9bcc8" stroke-width="0.7"/><polygon points="879.5,963.5 897.5,966 897.5,993 879.5,990.5" fill="#3a3b3f"/><polygon points="978.5,983.5 989,985 989,1010 978.5,1008.5" fill="#3a3b3f"/><ellipse cx="823.8" cy="1131.6" rx="14.4" ry="6.8" fill="#17171a"/><ellipse cx="823.8" cy="1130" rx="14.4" ry="6.8" fill="#2b2b2f"/><ellipse cx="821.6" cy="1129" rx="8.6" ry="3.4" fill="#45454a"/><rect x="819.5" y="1054" width="8.5" height="71" fill="url(#lg64)"/><rect x="820.9" y="1045" width="5.6" height="9.5" fill="#cfd0d4"/><path d="M816.5 1035.5 v7.5 h14.4 v-7.5 h-3.4 v4.2 h-7.6 v-4.2z" fill="#b9bbc0"/><rect x="816.5" y="1043" width="14.4" height="2" fill="#8d8f94"/><ellipse cx="918" cy="1151.6" rx="15" ry="8.5" fill="#17171a"/><ellipse cx="918" cy="1150" rx="15" ry="8.5" fill="#2b2b2f"/><ellipse cx="915.8" cy="1148.7" rx="9" ry="4.2" fill="#45454a"/><rect x="913.2" y="1076" width="10.5" height="71.5" fill="url(#lg65)"/><rect x="915.1" y="1071" width="6.7" height="5.5" fill="#d7d8db"/><rect x="912.7" y="1067" width="11.6" height="4.5" fill="#8d8f94"/><rect x="913.2" y="1067.6" width="4.7" height="2.7" fill="#e6e7e9"/><polygon points="755,1007 846.5,944 846.5,964 755,1014" fill="#e9642c"/><polygon points="782.5,991.1 793.4,983.5 793.4,990.5 782.5,996.5" fill="#a3461b"/><polygon points="784,992.1 792.8,984.5 792.8,989 784,995" fill="#cfc6bf"/><polygon points="802.6,977.2 813.6,969.7 813.6,979.5 802.6,985.5" fill="#a3461b"/><polygon points="804.1,978.2 813,970.7 813,978 804.1,984" fill="#cfc6bf"/><polygon points="822.7,963.4 833.7,955.8 833.7,968.5 822.7,974.5" fill="#a3461b"/><polygon points="824.2,964.4 833.1,956.8 833.1,967 824.2,973" fill="#cfc6bf"/><line x1="755" y1="1014" x2="846.5" y2="964" stroke="#c9521f" stroke-width="1"/><polygon points="755,997 846.5,932.5 846.5,945 755,1008" fill="#f3f3f3"/><line x1="755" y1="1008" x2="846.5" y2="945" stroke="#b9bbbd" stroke-width="0.7"/><line x1="754" y1="995.8" x2="845.5" y2="931.3" stroke="#a4a7ad" stroke-width="3"/><line x1="752.6" y1="995.4" x2="844.1" y2="930.9" stroke="#d9dbde" stroke-width="1.3"/><line x1="754.8" y1="996.6" x2="846.3" y2="932.1" stroke="#7f8288" stroke-width="0.7" stroke-dasharray="1.5 5"/><rect x="759.4" y="997.3" width="1" height="2.2" fill="#7b7d80"/><rect x="761.8" y="997.3" width="1" height="2.2" fill="#7b7d80"/><rect x="767.7" y="991.5" width="1" height="2.2" fill="#7b7d80"/><rect x="770.1" y="991.5" width="1" height="2.2" fill="#7b7d80"/><rect x="776.1" y="985.8" width="1" height="2.2" fill="#7b7d80"/><rect x="778.5" y="985.8" width="1" height="2.2" fill="#7b7d80"/><rect x="784.4" y="980" width="1" height="2.2" fill="#7b7d80"/><rect x="786.8" y="980" width="1" height="2.2" fill="#7b7d80"/><rect x="792.7" y="974.2" width="1" height="2.2" fill="#7b7d80"/><rect x="795.1" y="974.2" width="1" height="2.2" fill="#7b7d80"/><rect x="801" y="968.4" width="1" height="2.2" fill="#7b7d80"/><rect x="803.4" y="968.4" width="1" height="2.2" fill="#7b7d80"/><rect x="809.3" y="962.6" width="1" height="2.2" fill="#7b7d80"/><rect x="811.7" y="962.6" width="1" height="2.2" fill="#7b7d80"/><rect x="817.6" y="956.8" width="1" height="2.2" fill="#7b7d80"/><rect x="820" y="956.8" width="1" height="2.2" fill="#7b7d80"/><rect x="826" y="951" width="1" height="2.2" fill="#7b7d80"/><rect x="828.4" y="951" width="1" height="2.2" fill="#7b7d80"/><rect x="834.3" y="945.2" width="1" height="2.2" fill="#7b7d80"/><rect x="836.7" y="945.2" width="1" height="2.2" fill="#7b7d80"/><rect x="842.6" y="939.4" width="1" height="2.2" fill="#7b7d80"/><rect x="845" y="939.4" width="1" height="2.2" fill="#7b7d80"/><polygon points="753.8,997.6 761,996.1 761,1014.6 755,1016.4 753.8,1013.2" fill="#e9642c"/><polygon points="755.1,999.2 759.8,998.6 759.8,1010.1 755.1,1010.7" fill="#f1f1f1"/><line x1="757.4" y1="1015.4" x2="757.4" y2="1010.7" stroke="#fff" stroke-width="0.9"/><polygon points="909.5,1056.5 978.5,993 978.5,1009 909.5,1064.5" fill="#e9642c"/><polygon points="930.2,1040.5 938.5,1032.8 938.5,1038.7 930.2,1045.4" fill="#a3461b"/><polygon points="931.7,1041.5 937.9,1033.8 937.9,1037.2 931.7,1043.9" fill="#cfc6bf"/><polygon points="945.4,1026.5 953.7,1018.9 953.7,1026.5 945.4,1033.1" fill="#a3461b"/><polygon points="946.9,1027.5 953.1,1019.9 953.1,1025 946.9,1031.6" fill="#cfc6bf"/><polygon points="960.6,1012.5 968.8,1004.9 968.8,1014.3 960.6,1020.9" fill="#a3461b"/><polygon points="962.1,1013.5 968.2,1005.9 968.2,1012.8 962.1,1019.4" fill="#cfc6bf"/><line x1="909.5" y1="1064.5" x2="978.5" y2="1009" stroke="#c9521f" stroke-width="1"/><polygon points="909.5,1046.5 978.5,982 978.5,994 909.5,1057.5" fill="#f3f3f3"/><line x1="909.5" y1="1057.5" x2="978.5" y2="994" stroke="#b9bbbd" stroke-width="0.7"/><line x1="908.5" y1="1045.3" x2="977.5" y2="980.8" stroke="#a4a7ad" stroke-width="3"/><line x1="907.1" y1="1044.9" x2="976.1" y2="980.4" stroke="#d9dbde" stroke-width="1.3"/><line x1="909.3" y1="1046.1" x2="978.3" y2="981.6" stroke="#7f8288" stroke-width="0.7" stroke-dasharray="1.5 5"/><rect x="913.5" y="1045.9" width="1" height="2.2" fill="#7b7d80"/><rect x="915.9" y="1045.9" width="1" height="2.2" fill="#7b7d80"/><rect x="921.1" y="1038.8" width="1" height="2.2" fill="#7b7d80"/><rect x="923.5" y="1038.8" width="1" height="2.2" fill="#7b7d80"/><rect x="928.8" y="1031.7" width="1" height="2.2" fill="#7b7d80"/><rect x="931.2" y="1031.7" width="1" height="2.2" fill="#7b7d80"/><rect x="936.5" y="1024.6" width="1" height="2.2" fill="#7b7d80"/><rect x="938.9" y="1024.6" width="1" height="2.2" fill="#7b7d80"/><rect x="944.1" y="1017.5" width="1" height="2.2" fill="#7b7d80"/><rect x="946.5" y="1017.5" width="1" height="2.2" fill="#7b7d80"/><rect x="951.8" y="1010.4" width="1" height="2.2" fill="#7b7d80"/><rect x="954.2" y="1010.4" width="1" height="2.2" fill="#7b7d80"/><rect x="959.5" y="1003.3" width="1" height="2.2" fill="#7b7d80"/><rect x="961.9" y="1003.3" width="1" height="2.2" fill="#7b7d80"/><rect x="967.1" y="996.1" width="1" height="2.2" fill="#7b7d80"/><rect x="969.5" y="996.1" width="1" height="2.2" fill="#7b7d80"/><rect x="974.8" y="989" width="1" height="2.2" fill="#7b7d80"/><rect x="977.2" y="989" width="1" height="2.2" fill="#7b7d80"/><polygon points="908.3,1047.1 915.5,1045.6 915.5,1065.1 909.5,1066.9 908.3,1063.7" fill="#e9642c"/><polygon points="909.6,1048.7 914.3,1048.1 914.3,1060 909.6,1060.7" fill="#f1f1f1"/><line x1="911.9" y1="1065.9" x2="911.9" y2="1060.7" stroke="#fff" stroke-width="0.9"/><polygon points="817.4,1004.5 828.6,1016.7 829.8,1011.1 844.5,1014.3 843.3,1019.9 858.5,1013.5 847.3,1001.3 846.1,1006.9 831.4,1003.7 832.6,998.1" fill="#f26a21"/><polygon points="515,1321.2 552.5,1276.2 548.8,1297.5 511.2,1356.2" fill="url(#lg72)"/><polygon points="303.8,1283.8 515,1321.2 511.2,1356.2 302.5,1312" fill="url(#lg73)"/><line x1="302.5" y1="1312" x2="511.2" y2="1356.2" stroke="#aeb2b0" stroke-width="0.8"/><polygon points="356.2,1242.5 552.5,1276.2 515,1321.2 303.8,1283.8" fill="url(#lg74)"/><line x1="348.4" y1="1249.9" x2="547.4" y2="1283.7" stroke="#a5a9b0" stroke-width="0.9" opacity="0.55"/><line x1="348.4" y1="1248.7" x2="547.4" y2="1282.3" stroke="#17191c" stroke-width="1.8"/><line x1="340.5" y1="1256.1" x2="540.7" y2="1291.8" stroke="#a5a9b0" stroke-width="0.9" opacity="0.55"/><line x1="340.5" y1="1254.9" x2="540.7" y2="1290.4" stroke="#17191c" stroke-width="1.8"/><line x1="332.4" y1="1262.5" x2="533" y2="1301.1" stroke="#a5a9b0" stroke-width="0.9" opacity="0.55"/><line x1="332.4" y1="1261.3" x2="533" y2="1299.7" stroke="#17191c" stroke-width="1.8"/><line x1="322.9" y1="1269.9" x2="524.4" y2="1311.4" stroke="#a5a9b0" stroke-width="0.9" opacity="0.55"/><line x1="322.9" y1="1268.7" x2="524.4" y2="1310" stroke="#17191c" stroke-width="1.8"/><line x1="313.3" y1="1277.4" x2="516.7" y2="1320.6" stroke="#a5a9b0" stroke-width="0.9" opacity="0.55"/><line x1="313.3" y1="1276.2" x2="516.7" y2="1319.2" stroke="#17191c" stroke-width="1.8"/><line x1="303.8" y1="1283.8" x2="515" y2="1321.2" stroke="#8a8e96" stroke-width="0.8" opacity="0.8"/><polygon points="547.7,1280.7 550.6,1278.5 550,1285.9 547.4,1288.1" fill="#c3c8ca"/><polygon points="544.8,1281.4 547.8,1280.8 547.5,1287.9 546,1289.5 544.5,1288.3" fill="#1d1f22"/><polygon points="541,1288.8 543.9,1286.6 543.3,1294 540.7,1296.2" fill="#c3c8ca"/><polygon points="538.1,1289.5 541.1,1288.9 540.8,1296 539.3,1297.6 537.8,1296.4" fill="#1d1f22"/><polygon points="533.3,1298.1 536.2,1295.9 535.6,1303.2 533,1305.5" fill="#c3c8ca"/><polygon points="530.4,1298.8 533.4,1298.2 533.1,1305.2 531.6,1306.9 530.1,1305.7" fill="#1d1f22"/><polygon points="524.7,1308.4 527.6,1306.2 527,1313.6 524.4,1315.8" fill="#c3c8ca"/><polygon points="521.8,1309.1 524.8,1308.5 524.5,1315.6 523,1317.2 521.5,1316" fill="#1d1f22"/><polygon points="517,1317.6 519.9,1315.4 519.3,1322.8 516.7,1325" fill="#c3c8ca"/><polygon points="514.1,1318.3 517.1,1317.7 516.8,1324.8 515.3,1326.4 513.8,1325.2" fill="#1d1f22"/><line x1="407.5" y1="1253.8" x2="392" y2="1269" stroke="#5a5e66" stroke-width="3.8"/><line x1="407.5" y1="1253.8" x2="392" y2="1269" stroke="#b9bdc2" stroke-width="2.3" stroke-dasharray="4 0.6"/><line x1="490" y1="1267.5" x2="455" y2="1307.5" stroke="#5a5e66" stroke-width="3.8"/><line x1="490" y1="1267.5" x2="455" y2="1307.5" stroke="#b9bdc2" stroke-width="2.3" stroke-dasharray="4 0.6"/><polygon points="451.2,1310 462.5,1311.5 462.5,1333.5 451.2,1332" fill="#3a3b3f"/><ellipse cx="333.8" cy="1424.1" rx="14.4" ry="6.8" fill="#17171a"/><ellipse cx="333.8" cy="1422.5" rx="14.4" ry="6.8" fill="#2b2b2f"/><ellipse cx="331.6" cy="1421.5" rx="8.6" ry="3.4" fill="#45454a"/><rect x="330" y="1354.5" width="10" height="64.5" fill="url(#lg75)"/><rect x="331.8" y="1349.5" width="6.4" height="5.5" fill="#d7d8db"/><rect x="329.5" y="1345.5" width="11" height="4.5" fill="#8d8f94"/><rect x="330" y="1346.1" width="4.5" height="2.7" fill="#e6e7e9"/><ellipse cx="421.2" cy="1445.3" rx="14.4" ry="8" fill="#17171a"/><ellipse cx="421.2" cy="1443.8" rx="14.4" ry="8" fill="#2b2b2f"/><ellipse cx="419.1" cy="1442.5" rx="8.6" ry="4" fill="#45454a"/><rect x="419.5" y="1373" width="10.5" height="68" fill="url(#lg76)"/><rect x="421.4" y="1368" width="6.7" height="5.5" fill="#d7d8db"/><rect x="419" y="1364" width="11.6" height="4.5" fill="#8d8f94"/><rect x="419.5" y="1364.6" width="4.7" height="2.7" fill="#e6e7e9"/><polygon points="315.1,1328.5 321.8,1327.5 332.5,1330 343.5,1334.2 343.5,1338.4 332.5,1342.6 326.7,1348.5 320.9,1347.5 314.5,1343.9" fill="#e9642c"/><polygon points="318.6,1330 323.2,1329.6 323.2,1340.5 318.6,1340.1" fill="#f0e4dc"/><polygon points="324.4,1331.7 329.6,1332.1 326.1,1341.4 324.4,1340.9" fill="#c9cbcf"/><line x1="323.2" y1="1329.6" x2="323.2" y2="1346.4" stroke="#b74d1c" stroke-width="0.8"/><polygon points="320,1321.5 330,1314 449,1310 453,1312 424.2,1344" fill="#5d5f67"/><polygon points="428,1346.5 455,1316 455,1323 440,1342 432,1356" fill="#e9642c"/><polygon points="434,1342 445,1329 445,1333 437,1343" fill="#b04a1c"/><line x1="423.5" y1="1345.5" x2="453.5" y2="1313.5" stroke="#e9eaec" stroke-width="3.2"/><line x1="422.2" y1="1344.1" x2="452.2" y2="1312.3" stroke="#a9acb2" stroke-width="1.2"/><polygon points="409,1347 414.8,1346 424,1348.5 433.5,1352.7 433.5,1356.9 424,1361.1 419,1367 414,1366 408.5,1362.4" fill="#e9642c"/><polygon points="412,1348.5 416,1348.1 416,1359 412,1358.6" fill="#f0e4dc"/><polygon points="417,1350.2 421.5,1350.6 418.5,1359.9 417,1359.4" fill="#c9cbcf"/><line x1="416" y1="1348.1" x2="416" y2="1364.9" stroke="#b74d1c" stroke-width="0.8"/><polygon points="424.2,1306 449,1283 449,1311 424.2,1336.5" fill="url(#lg66)"/><polygon points="320.8,1290 424.2,1307.5 424.2,1325.3 328.3,1314.2 320,1321.5" fill="url(#lg67)"/><polygon points="328.3,1314 424.2,1325 424.2,1336 328.3,1322.7" fill="url(#lg68)"/><polygon points="320,1321.5 328.3,1322.5 424.2,1335.8 421,1345.8 322.5,1327.7" fill="url(#lg69)"/><polygon points="424.2,1305.8 455,1276.2 455,1280.6 424.2,1310" fill="#5b5d67"/><polygon points="320.8,1288.3 424.2,1305.8 424.2,1310 320.8,1292.4" fill="url(#lg70)"/><polygon points="320.8,1288.3 352.5,1257.5 455,1276.2 424.2,1305.8" fill="url(#lg71)"/><line x1="320.8" y1="1288.3" x2="424.2" y2="1305.8" stroke="#c0c3ce" stroke-width="0.7"/><polygon points="1009,1325 1050,1275 1046.2,1299 1007.5,1360.5" fill="url(#lg77)"/><polygon points="781.2,1283.8 1009,1325 1007.5,1360.5 782.5,1316.2" fill="url(#lg78)"/><line x1="782.5" y1="1316.2" x2="1007.5" y2="1360.5" stroke="#aeb2b0" stroke-width="0.8"/><polygon points="837.5,1241.2 1050,1275 1009,1325 781.2,1283.8" fill="url(#lg79)"/><line x1="830" y1="1248.2" x2="1045.5" y2="1281.9" stroke="#a5a9b0" stroke-width="0.9" opacity="0.55"/><line x1="830" y1="1247" x2="1045.5" y2="1280.5" stroke="#17191c" stroke-width="1.8"/><line x1="821.2" y1="1255" x2="1037.7" y2="1291.4" stroke="#a5a9b0" stroke-width="0.9" opacity="0.55"/><line x1="821.2" y1="1253.8" x2="1037.7" y2="1290" stroke="#17191c" stroke-width="1.8"/><line x1="811.2" y1="1262.5" x2="1029.1" y2="1301.9" stroke="#a5a9b0" stroke-width="0.9" opacity="0.55"/><line x1="811.2" y1="1261.2" x2="1029.1" y2="1300.5" stroke="#17191c" stroke-width="1.8"/><line x1="801.2" y1="1270" x2="1020.1" y2="1312.9" stroke="#a5a9b0" stroke-width="0.9" opacity="0.55"/><line x1="801.2" y1="1268.8" x2="1020.1" y2="1311.5" stroke="#17191c" stroke-width="1.8"/><line x1="791.2" y1="1278.7" x2="1012.3" y2="1322.4" stroke="#a5a9b0" stroke-width="0.9" opacity="0.55"/><line x1="791.2" y1="1277.5" x2="1012.3" y2="1321" stroke="#17191c" stroke-width="1.8"/><line x1="781.2" y1="1283.8" x2="1009" y2="1325" stroke="#8a8e96" stroke-width="0.8" opacity="0.8"/><polygon points="1045.8,1278.9 1048.7,1276.7 1048.1,1284.1 1045.5,1286.3" fill="#c3c8ca"/><polygon points="1042.9,1279.6 1045.9,1279 1045.6,1286.1 1044.1,1287.7 1042.6,1286.5" fill="#1d1f22"/><polygon points="1038,1288.4 1040.9,1286.2 1040.3,1293.6 1037.7,1295.8" fill="#c3c8ca"/><polygon points="1035.1,1289.1 1038.1,1288.5 1037.8,1295.6 1036.3,1297.2 1034.8,1296" fill="#1d1f22"/><polygon points="1029.4,1298.9 1032.3,1296.7 1031.7,1304.1 1029.1,1306.3" fill="#c3c8ca"/><polygon points="1026.5,1299.6 1029.5,1299 1029.2,1306.1 1027.7,1307.7 1026.2,1306.5" fill="#1d1f22"/><polygon points="1020.4,1309.9 1023.3,1307.7 1022.7,1315.1 1020.1,1317.3" fill="#c3c8ca"/><polygon points="1017.5,1310.6 1020.5,1310 1020.2,1317.1 1018.7,1318.7 1017.2,1317.5" fill="#1d1f22"/><polygon points="1012.6,1319.4 1015.5,1317.2 1014.9,1324.6 1012.3,1326.8" fill="#c3c8ca"/><polygon points="1009.7,1320.1 1012.7,1319.5 1012.4,1326.6 1010.9,1328.2 1009.4,1327" fill="#1d1f22"/><line x1="983.8" y1="1266.2" x2="950" y2="1307.5" stroke="#5a5e66" stroke-width="3.8"/><line x1="983.8" y1="1266.2" x2="950" y2="1307.5" stroke="#b9bdc2" stroke-width="2.3" stroke-dasharray="4 0.6"/><ellipse cx="880" cy="1420.3" rx="14.4" ry="7.5" fill="#17171a"/><ellipse cx="880" cy="1418.8" rx="14.4" ry="7.5" fill="#2b2b2f"/><ellipse cx="877.8" cy="1417.6" rx="8.6" ry="3.8" fill="#45454a"/><rect x="875" y="1345" width="10.5" height="70" fill="url(#lg80)"/><rect x="876.9" y="1340" width="6.7" height="5.5" fill="#d7d8db"/><rect x="874.5" y="1336" width="11.6" height="4.5" fill="#8d8f94"/><rect x="875" y="1336.6" width="4.7" height="2.7" fill="#e6e7e9"/><polygon points="833.8,1294.5 950,1312.5 951.2,1338 941.5,1338 941.5,1321 833.8,1301" fill="#2d2e32"/><polygon points="845,1307 853,1312 942.5,1327 942.5,1340 924,1338.5 900,1333 858,1326 845,1322.5" fill="#e9642c"/><polygon points="862,1316.5 893,1321.5 893,1328.5 868,1324.5" fill="#7e8085"/><line x1="862" y1="1316.5" x2="893" y2="1321.5" stroke="#3a3c41" stroke-width="1.4"/><polygon points="901,1323 926,1327 926,1334.5 901,1330.5" fill="#7e8085"/><line x1="901" y1="1323" x2="926" y2="1327" stroke="#3a3c41" stroke-width="1.4"/><polygon points="847.5,1303.8 942.5,1318.8 942.5,1327.7 847.5,1312.3" fill="#eeeeef"/><line x1="847.5" y1="1312.3" x2="942.5" y2="1327.7" stroke="#a9abae" stroke-width="0.8"/><line x1="847.5" y1="1302.5" x2="942.5" y2="1317.5" stroke="#9a9da3" stroke-width="2.6"/><polygon points="934,1328.5 951.2,1330 951.2,1338 934,1337.5" fill="#2b2c30"/><polygon points="856.7,1260.5 946.7,1277 946.7,1310 856.7,1292" fill="url(#lg81)"/><polygon points="878,1282 912,1272 925,1274 889,1291" fill="#c7c2c4" opacity="0.55"/><polygon points="898,1283 921,1276.5 924,1280.5 903,1288" fill="#d98b6a" opacity="0.5"/><polygon points="948,1272.3 978,1240.3 978,1245.3 948,1277.3" fill="#4b4d57"/><polygon points="844.7,1255.7 948,1272.3 948,1277.3 844.7,1260.7" fill="url(#lg82)"/><polygon points="878.5,1226 978,1240.3 948,1272.3 844.7,1255.7" fill="url(#lg83)"/><line x1="844.7" y1="1255.7" x2="948" y2="1272.3" stroke="#b9bcc8" stroke-width="0.7"/><ellipse cx="817.5" cy="1436.6" rx="15" ry="8" fill="#17171a"/><ellipse cx="817.5" cy="1435" rx="15" ry="8" fill="#2b2b2f"/><ellipse cx="815.2" cy="1433.8" rx="9" ry="4" fill="#45454a"/><rect x="813" y="1362" width="10" height="67" fill="url(#lg84)"/><rect x="814.8" y="1357" width="6.4" height="5.5" fill="#d7d8db"/><rect x="812.5" y="1353" width="11" height="4.5" fill="#8d8f94"/><rect x="813" y="1353.6" width="4.5" height="2.7" fill="#e6e7e9"/><polygon points="796.5,1342 842.5,1311.3 842.5,1327.3 796.5,1351" fill="#e9642c"/><polygon points="810.3,1335.8 815.8,1332.1 815.8,1338.5 810.3,1341.4" fill="#a3461b"/><polygon points="811.8,1336.8 815.2,1333.1 815.2,1337 811.8,1339.9" fill="#cfc6bf"/><polygon points="820.4,1329 825.9,1325.4 825.9,1333.3 820.4,1336.2" fill="#a3461b"/><polygon points="821.9,1330 825.3,1326.4 825.3,1331.8 821.9,1334.7" fill="#cfc6bf"/><line x1="796.5" y1="1351" x2="842.5" y2="1327.3" stroke="#c9521f" stroke-width="1"/><polygon points="796.5,1335 842.5,1300.3 842.5,1312.3 796.5,1343" fill="#f3f3f3"/><line x1="796.5" y1="1343" x2="842.5" y2="1312.3" stroke="#b9bbbd" stroke-width="0.7"/><line x1="795.5" y1="1333.8" x2="841.5" y2="1299.1" stroke="#a4a7ad" stroke-width="3"/><line x1="794.1" y1="1333.4" x2="840.1" y2="1298.7" stroke="#d9dbde" stroke-width="1.3"/><line x1="796.3" y1="1334.6" x2="842.3" y2="1299.9" stroke="#7f8288" stroke-width="0.7" stroke-dasharray="1.5 5"/><rect x="801.5" y="1333.3" width="1" height="2.2" fill="#7b7d80"/><rect x="803.9" y="1333.3" width="1" height="2.2" fill="#7b7d80"/><rect x="810.7" y="1326.8" width="1" height="2.2" fill="#7b7d80"/><rect x="813.1" y="1326.8" width="1" height="2.2" fill="#7b7d80"/><rect x="819.9" y="1320.2" width="1" height="2.2" fill="#7b7d80"/><rect x="822.3" y="1320.2" width="1" height="2.2" fill="#7b7d80"/><rect x="829.1" y="1313.7" width="1" height="2.2" fill="#7b7d80"/><rect x="831.5" y="1313.7" width="1" height="2.2" fill="#7b7d80"/><rect x="838.3" y="1307.2" width="1" height="2.2" fill="#7b7d80"/><rect x="840.7" y="1307.2" width="1" height="2.2" fill="#7b7d80"/><polygon points="795.3,1335.6 802.5,1334.1 802.5,1351.6 796.5,1353.4 795.3,1350.2" fill="#e9642c"/><polygon points="796.6,1337.2 801.3,1336.6 801.3,1345.8 796.6,1346.6" fill="#f1f1f1"/><line x1="798.9" y1="1352.4" x2="798.9" y2="1346.6" stroke="#fff" stroke-width="0.9"/><polygon points="967.9,1385.4 966.4,1387.2 964.8,1388.8 963.1,1390.4 961.4,1391.7 959.5,1393 957.5,1394.1 955.6,1395 953.5,1395.8 951.5,1396.4 949.4,1396.9 947.3,1397.2 945.3,1397.4 943.3,1397.5 941.3,1397.4 939.4,1397.1 937.6,1396.7 935.9,1396.2 934.3,1395.5 932.8,1394.7 931.5,1393.8 930.3,1392.8 929.2,1391.6 928.3,1390.3 927.5,1388.9 921.5,1392.1 922.8,1394.1 924.3,1396 926,1397.6 927.8,1399 929.8,1400.1 931.9,1401.1 934,1401.9 936.3,1402.4 938.6,1402.8 940.9,1403 943.3,1403 945.7,1402.8 948.1,1402.5 950.5,1401.9 952.9,1401.3 955.3,1400.4 957.6,1399.4 959.8,1398.2 962,1396.8 964,1395.3 966,1393.6 967.9,1391.8 969.6,1389.8 971.1,1387.6" fill="#f26a21"/><polygon points="917,1375.5 914,1393 933.5,1387.5" fill="#f26a21"/></g>
<g id="wm"><g opacity="0.38"><use href="#wmlogo" x="217.5" y="89.5"/><use href="#wmlogo" x="602.5" y="89.5"/><use href="#wmlogo" x="992.5" y="89.5"/><g clip-path="url(#wc1)"><use href="#wmlogo" x="-123" y="170"/></g><g clip-path="url(#wc2)"><use href="#wmlogo" x="23" y="252.5"/></g><use href="#wmlogo" x="412.5" y="252.5"/><use href="#wmlogo" x="799" y="252.5"/><use href="#wmlogo" x="1182.5" y="252.5"/><use href="#wmlogo" x="217.5" y="417.5"/><use href="#wmlogo" x="602.5" y="417.5"/><use href="#wmlogo" x="992.5" y="417.5"/><g clip-path="url(#wc3)"><use href="#wmlogo" x="-123" y="498"/></g><g clip-path="url(#wc4)"><use href="#wmlogo" x="23" y="580.5"/></g><use href="#wmlogo" x="412.5" y="580.5"/><use href="#wmlogo" x="799" y="580.5"/><use href="#wmlogo" x="1182.5" y="580.5"/><use href="#wmlogo" x="217.5" y="742.5"/><use href="#wmlogo" x="602.5" y="742.5"/><use href="#wmlogo" x="992.5" y="742.5"/><use href="#wmlogo" x="62" y="798"/><use href="#wmlogo" x="447.5" y="798"/><use href="#wmlogo" x="835" y="798"/><g clip-path="url(#wc5)"><use href="#wmlogo" x="-123" y="823"/></g><g clip-path="url(#wc6)"><use href="#wmlogo" x="23" y="905"/></g><use href="#wmlogo" x="415" y="902.5"/><use href="#wmlogo" x="797.5" y="902.5"/><use href="#wmlogo" x="1182.5" y="902.5"/><use href="#wmlogo" x="257.5" y="961"/><use href="#wmlogo" x="642.5" y="961"/><use href="#wmlogo" x="1030" y="961"/><g clip-path="url(#wc7)"><use href="#wmlogo" x="-135" y="975"/></g><use href="#wmlogo" x="62" y="1126"/><use href="#wmlogo" x="447.5" y="1126"/><use href="#wmlogo" x="835" y="1126"/><g clip-path="url(#wc8)"><use href="#wmlogo" x="-123" y="1150"/></g><use href="#wmlogo" x="257.5" y="1289"/><use href="#wmlogo" x="642.5" y="1288"/><use href="#wmlogo" x="1030" y="1288"/><g clip-path="url(#wc9)"><use href="#wmlogo" x="-135" y="1303"/></g><use href="#wmlogo" x="62" y="1450"/><use href="#wmlogo" x="450" y="1450"/><use href="#wmlogo" x="835" y="1450"/><g clip-path="url(#wc10)"><use href="#wmlogo" x="-123" y="1475"/></g></g></g>
<g id="arrows"><g fill="#3b3b3b"><rect x="664.1" y="120.6" width="2.2" height="20.4"/><rect x="668.6" y="120.6" width="5.5" height="20.4"/><polygon points="676.6,120.6 689.1,120.6 689.1,110.8 713.8,130.8 689.1,150.8 689.1,141 676.6,141" fill="#3b3b3b"/></g><g fill="#3b3b3b"><rect x="663.3" y="418.6" width="2.2" height="20.4"/><rect x="667.8" y="418.6" width="5.5" height="20.4"/><polygon points="675.8,418.6 688.3,418.6 688.3,408.8 712.9,428.8 688.3,448.8 688.3,438.9 675.8,438.9" fill="#3b3b3b"/></g><g fill="#3b3b3b"><rect x="664.1" y="732.6" width="2.2" height="20.4"/><rect x="668.6" y="732.6" width="5.5" height="20.4"/><polygon points="676.6,732.6 689.1,732.6 689.1,722.8 713.8,742.8 689.1,762.8 689.1,753 676.6,753" fill="#3b3b3b"/></g><g fill="#3b3b3b"><rect x="663.6" y="999" width="2.2" height="20.4"/><rect x="668.1" y="999" width="5.5" height="20.4"/><polygon points="676.1,999 688.6,999 688.6,989.2 713.2,1009.2 688.6,1029.2 688.6,1019.4 676.1,1019.4" fill="#3b3b3b"/></g><g fill="#3b3b3b"><rect x="662.9" y="1320.2" width="2.2" height="20.4"/><rect x="667.4" y="1320.2" width="5.5" height="20.4"/><polygon points="675.4,1320.2 687.9,1320.2 687.9,1310.4 712.5,1330.4 687.9,1350.4 687.9,1340.6 675.4,1340.6" fill="#3b3b3b"/></g></g>
<g id="dash"><line x1="0.8" y1="285.4" x2="1166.5" y2="285.4" stroke="#1c1c1c" stroke-width="1.7" stroke-dasharray="5.7 2.3"/><line x1="0.8" y1="621" x2="1166.5" y2="621" stroke="#1c1c1c" stroke-width="1.7" stroke-dasharray="5.7 2.3"/><line x1="0.8" y1="887.4" x2="1166.5" y2="887.4" stroke="#1c1c1c" stroke-width="1.7" stroke-dasharray="5.7 2.3"/><line x1="0.8" y1="1211.8" x2="1166.5" y2="1211.8" stroke="#1c1c1c" stroke-width="1.7" stroke-dasharray="5.7 2.3"/></g>
<path d="M1031 1504v-0.5a1.6 1.6 0 0 1 1.6-1.6H1200V1504z" fill="#f0641e"/>
<g id="text" opacity="0.999"><text class="cjk" x="5 36.2 67.3" y="45.7" font-size="24" font-weight="500" fill="#000">拆卸式</text>
<text x="108.5" y="45.2" font-size="21.5" textLength="234" lengthAdjust="spacingAndGlyphs" fill="#000" xml:space="preserve">Disassembled Die Arm</text>
<text x="3.4" y="75.6" font-size="23.6" textLength="136.3" lengthAdjust="spacingAndGlyphs" fill="#000" xml:space="preserve">MODEL: RC</text>
<text class="cjk" x="397.6" y="248.7" font-size="14.5" font-weight="bold" textLength="172.6" lengthAdjust="spacingAndGlyphs" fill="#000">用于模具的搬入/搬出</text>
<text x="367.4" y="268.1" font-size="17" textLength="229.2" lengthAdjust="spacingAndGlyphs" fill="#000" xml:space="preserve">Used for mold moving in/out</text>
<text class="cjk" x="797.2" y="249.8" font-size="15.8" font-weight="bold" textLength="220.4" lengthAdjust="spacingAndGlyphs" fill="#000">不用时可将移模臂拆卸收纳</text>
<text x="678.2" y="268.1" font-size="17" textLength="479.5" lengthAdjust="spacingAndGlyphs" fill="#000" xml:space="preserve">when not use, the die arm can be disassembled the die arm .</text>
<text class="cjk" x="4.7 36.1 67.6" y="336.8" font-size="24" font-weight="500" fill="#000">折下式</text>
<text x="109.3" y="337" font-size="21.5" textLength="159.2" lengthAdjust="spacingAndGlyphs" fill="#000" xml:space="preserve">Folded Die Arm</text>
<text x="3.6" y="367.3" font-size="23.6" textLength="135.8" lengthAdjust="spacingAndGlyphs" fill="#000" xml:space="preserve">MODEL: RD</text>
<text class="cjk" x="395.3" y="582.3" font-size="14.2" font-weight="bold" textLength="172.3" lengthAdjust="spacingAndGlyphs" fill="#000">用于模具的搬入/搬出</text>
<text x="367.7" y="602.7" font-size="17" textLength="230.3" lengthAdjust="spacingAndGlyphs" fill="#000" xml:space="preserve">Used for mold moving in/out</text>
<text class="cjk" x="808.5" y="583.4" font-size="15.5" font-weight="bold" textLength="256.9" lengthAdjust="spacingAndGlyphs" fill="#000">不用时可将移模臂垂直折叠收纳</text>
<text x="749.9" y="603" font-size="17" textLength="391.5" lengthAdjust="spacingAndGlyphs" fill="#000" xml:space="preserve">when not use, the die arm can be folded vertically.</text>
<text class="cjk" x="5.5" y="667.4" font-size="24.6" font-weight="500" textLength="125.8" lengthAdjust="spacingAndGlyphs" fill="#000">水平折叠式</text>
<text x="148.3" y="666.8" font-size="21.5" textLength="270.7" lengthAdjust="spacingAndGlyphs" fill="#000" xml:space="preserve">Horizontal Folded Die Arm</text>
<text x="3.7" y="698" font-size="23.6" textLength="194.5" lengthAdjust="spacingAndGlyphs" fill="#000" xml:space="preserve">MODEL: RE /  RF</text>
<text class="cjk" x="395.3" y="850.3" font-size="14.2" font-weight="bold" textLength="172.3" lengthAdjust="spacingAndGlyphs" fill="#000">用于模具的搬入/搬出</text>
<text x="367.3" y="871.2" font-size="17" textLength="229.4" lengthAdjust="spacingAndGlyphs" fill="#000" xml:space="preserve">Used for mold moving in/out</text>
<text class="cjk" x="802.8" y="851.4" font-size="15.5" font-weight="bold" textLength="257.2" lengthAdjust="spacingAndGlyphs" fill="#000">不用时可将移模臂水平折叠收纳</text>
<text x="730.8" y="871.5" font-size="17" textLength="412.2" lengthAdjust="spacingAndGlyphs" fill="#000" xml:space="preserve">when not use, the die arm can be folded horizontally.</text>
<text class="cjk" x="5.4" y="932.6" font-size="24.6" font-weight="500" textLength="283.4" lengthAdjust="spacingAndGlyphs" fill="#000">装卸式（支撑座安装型）</text>
<text x="3.8" y="961.2" font-size="21.5" textLength="234" lengthAdjust="spacingAndGlyphs" fill="#000" xml:space="preserve">Disassembled Die Arm</text>
<text x="4.3" y="985" font-size="21.5" textLength="177.9" lengthAdjust="spacingAndGlyphs" fill="#000" xml:space="preserve">With The Support</text>
<text class="cjk" x="393" y="1176.2" font-size="14.2" font-weight="bold" textLength="209.4" lengthAdjust="spacingAndGlyphs" fill="#000">用于重载模具的搬入/搬出</text>
<text x="319.9" y="1196.2" font-size="17" textLength="353.3" lengthAdjust="spacingAndGlyphs" fill="#000" xml:space="preserve">Used for moving in/out of heavy duty molds</text>
<text class="cjk" x="838.4" y="1177.3" font-size="15.5" font-weight="bold" textLength="220.2" lengthAdjust="spacingAndGlyphs" fill="#000">不用时可将移模臂拆卸收纳</text>
<text x="719.9" y="1196.2" font-size="17" textLength="475.1" lengthAdjust="spacingAndGlyphs" fill="#000" xml:space="preserve">when not use, the die arm can be disassembled the die arm.</text>
<text class="cjk" x="7.7" y="1264.3" font-size="24.4" font-weight="500" textLength="332.7" lengthAdjust="spacingAndGlyphs" fill="#000">水平折叠式（支撑座安装型）</text>
<text x="4.5" y="1293.8" font-size="21.5" textLength="270.4" lengthAdjust="spacingAndGlyphs" fill="#000" xml:space="preserve">Horizontal Folded Die Arm</text>
<text x="6" y="1317.6" font-size="21.5" textLength="178.3" lengthAdjust="spacingAndGlyphs" fill="#000" xml:space="preserve">With The Support</text>
<text class="cjk" x="395.2" y="1469.5" font-size="14.3" font-weight="bold" textLength="209.7" lengthAdjust="spacingAndGlyphs" fill="#000">用于重载模具的搬入/搬出</text>
<text x="322" y="1490.9" font-size="17" textLength="354.4" lengthAdjust="spacingAndGlyphs" fill="#000" xml:space="preserve">Used for moving in/out of heavy duty molds</text>
<text class="cjk" x="781.5" y="1470.6" font-size="15.5" font-weight="bold" textLength="313.7" lengthAdjust="spacingAndGlyphs" fill="#000">不用时可将移模臂及立柱水平折叠收纳</text>
<text x="732.3" y="1490.9" font-size="17" textLength="411.8" lengthAdjust="spacingAndGlyphs" fill="#000" xml:space="preserve">when not use, the die arm can be folded horizontally.</text></g>
</svg>
</body></html>
